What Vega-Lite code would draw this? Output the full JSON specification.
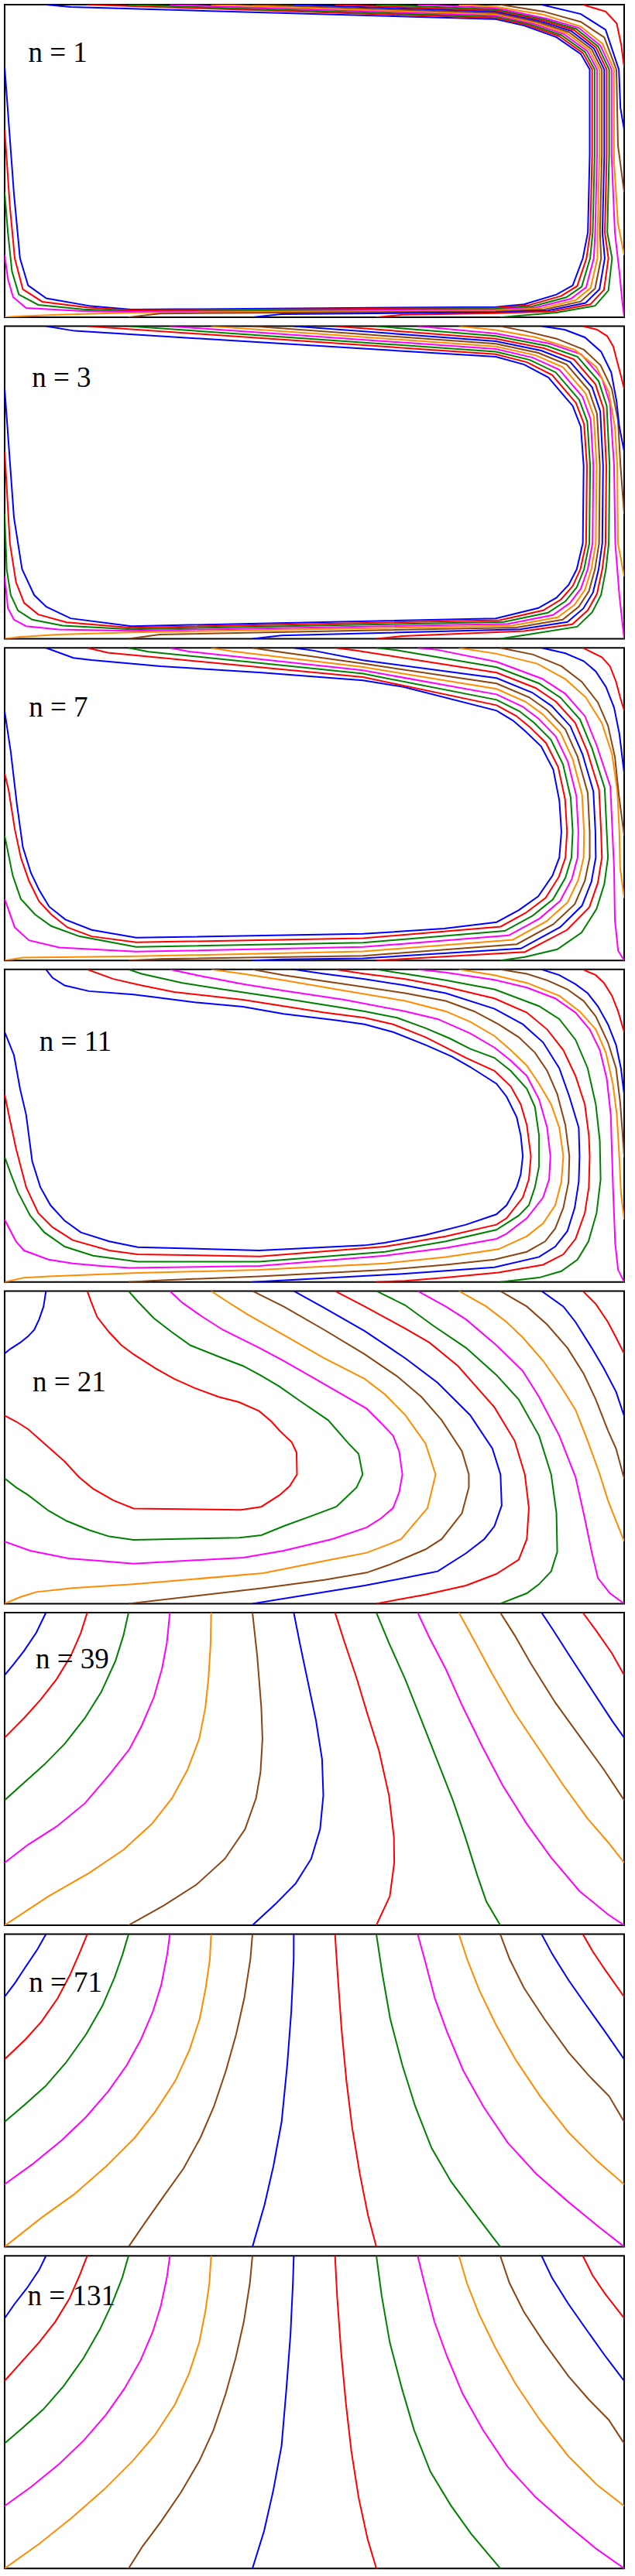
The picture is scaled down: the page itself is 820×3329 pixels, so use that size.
{
"$schema":"https://vega.github.io/schema/vega-lite/v6.json",
"background":"white",
"padding":{"left":5,"top":5,"right":5,"bottom":5},
"spacing":9.6,
"config":{"view":{"stroke":"#000000","strokeWidth":2}},
"datasets":{
"lab":[
{"p":1,"x":0.038,"y":0.183,"t":"n = 1"},
{"p":2,"x":0.044,"y":0.193,"t":"n = 3"},
{"p":3,"x":0.039,"y":0.22,"t":"n = 7"},
{"p":4,"x":0.056,"y":0.261,"t":"n = 11"},
{"p":5,"x":0.045,"y":0.321,"t":"n = 21"},
{"p":6,"x":0.05,"y":0.177,"t":"n = 39"},
{"p":7,"x":0.039,"y":0.184,"t":"n = 71"},
{"p":8,"x":0.037,"y":0.159,"t":"n = 131"}
],
"pts":[
{"p":1,"k":1,"x":0.0667,"y":0},{"p":1,"k":1,"x":0.1065,"y":0.0074},{"p":1,"k":1,"x":0.7928,"y":0.0463},{"p":1,"k":1,"x":0.8386,"y":0.067},{"p":1,"k":1,"x":0.8908,"y":0.1042},{"p":1,"k":1,"x":0.9301,"y":0.158},{"p":1,"k":1,"x":0.9444,"y":0.2076},{"p":1,"k":1,"x":0.9444,"y":0.4806},{"p":1,"k":1,"x":0.9414,"y":0.7287},{"p":1,"k":1,"x":0.9333,"y":0.8114},{"p":1,"k":1,"x":0.917,"y":0.8983},{"p":1,"k":1,"x":0.8908,"y":0.9272},{"p":1,"k":1,"x":0.8386,"y":0.9586},{"p":1,"k":1,"x":0.7928,"y":0.9669},{"p":1,"k":1,"x":0.2046,"y":0.9752},{"p":1,"k":1,"x":0.1392,"y":0.9644},{"p":1,"k":1,"x":0.0673,"y":0.9396},{"p":1,"k":1,"x":0.0379,"y":0.8983},{"p":1,"k":1,"x":0.0248,"y":0.8114},{"p":1,"k":1,"x":0.015,"y":0.6046},{"p":1,"k":1,"x":0,"y":0.2},
{"p":1,"k":2,"x":0.1333,"y":0},{"p":1,"k":2,"x":0.7928,"y":0.0424},{"p":1,"k":2,"x":0.8426,"y":0.0645},{"p":1,"k":2,"x":0.8948,"y":0.1009},{"p":1,"k":2,"x":0.9336,"y":0.155},{"p":1,"k":2,"x":0.9483,"y":0.2076},{"p":1,"k":2,"x":0.9483,"y":0.4806},{"p":1,"k":2,"x":0.9453,"y":0.7287},{"p":1,"k":2,"x":0.9392,"y":0.8114},{"p":1,"k":2,"x":0.9242,"y":0.9003},{"p":1,"k":2,"x":0.8986,"y":0.9317},{"p":1,"k":2,"x":0.8451,"y":0.9619},{"p":1,"k":2,"x":0.7928,"y":0.9698},{"p":1,"k":2,"x":0.2046,"y":0.9777},{"p":1,"k":2,"x":0.1327,"y":0.9686},{"p":1,"k":2,"x":0.0608,"y":0.9504},{"p":1,"k":2,"x":0.0294,"y":0.9107},{"p":1,"k":2,"x":0.0163,"y":0.8114},{"p":1,"k":2,"x":0.0085,"y":0.646},{"p":1,"k":2,"x":0,"y":0.4},
{"p":1,"k":3,"x":0.2,"y":0},{"p":1,"k":3,"x":0.7928,"y":0.0384},{"p":1,"k":3,"x":0.8466,"y":0.062},{"p":1,"k":3,"x":0.8988,"y":0.0976},{"p":1,"k":3,"x":0.9371,"y":0.152},{"p":1,"k":3,"x":0.9523,"y":0.2076},{"p":1,"k":3,"x":0.9523,"y":0.4806},{"p":1,"k":3,"x":0.9493,"y":0.7287},{"p":1,"k":3,"x":0.9451,"y":0.8114},{"p":1,"k":3,"x":0.9314,"y":0.9023},{"p":1,"k":3,"x":0.9064,"y":0.9362},{"p":1,"k":3,"x":0.8516,"y":0.9652},{"p":1,"k":3,"x":0.7928,"y":0.9727},{"p":1,"k":3,"x":0.2046,"y":0.9802},{"p":1,"k":3,"x":0.1261,"y":0.9744},{"p":1,"k":3,"x":0.0542,"y":0.9603},{"p":1,"k":3,"x":0.0229,"y":0.9272},{"p":1,"k":3,"x":0.0118,"y":0.8528},{"p":1,"k":3,"x":0.0052,"y":0.7287},{"p":1,"k":3,"x":0,"y":0.6},
{"p":1,"k":4,"x":0.2667,"y":0},{"p":1,"k":4,"x":0.7928,"y":0.0344},{"p":1,"k":4,"x":0.8506,"y":0.0595},{"p":1,"k":4,"x":0.9028,"y":0.0943},{"p":1,"k":4,"x":0.9406,"y":0.149},{"p":1,"k":4,"x":0.9562,"y":0.2076},{"p":1,"k":4,"x":0.9562,"y":0.4806},{"p":1,"k":4,"x":0.9532,"y":0.7287},{"p":1,"k":4,"x":0.951,"y":0.8114},{"p":1,"k":4,"x":0.9386,"y":0.9043},{"p":1,"k":4,"x":0.9142,"y":0.9407},{"p":1,"k":4,"x":0.8581,"y":0.9685},{"p":1,"k":4,"x":0.7928,"y":0.9756},{"p":1,"k":4,"x":0.2046,"y":0.9827},{"p":1,"k":4,"x":0.1196,"y":0.9793},{"p":1,"k":4,"x":0.0346,"y":0.9702},{"p":1,"k":4,"x":0.0137,"y":0.9355},{"p":1,"k":4,"x":0.0052,"y":0.8776},{"p":1,"k":4,"x":0,"y":0.8},
{"p":1,"k":5,"x":0.3333,"y":0},{"p":1,"k":5,"x":0.7928,"y":0.0305},{"p":1,"k":5,"x":0.8546,"y":0.057},{"p":1,"k":5,"x":0.9068,"y":0.091},{"p":1,"k":5,"x":0.9441,"y":0.146},{"p":1,"k":5,"x":0.9601,"y":0.2076},{"p":1,"k":5,"x":0.9601,"y":0.4806},{"p":1,"k":5,"x":0.9571,"y":0.7287},{"p":1,"k":5,"x":0.9569,"y":0.8114},{"p":1,"k":5,"x":0.9458,"y":0.9063},{"p":1,"k":5,"x":0.922,"y":0.9452},{"p":1,"k":5,"x":0.8646,"y":0.9718},{"p":1,"k":5,"x":0.7928,"y":0.9785},{"p":1,"k":5,"x":0.2046,"y":0.9852},{"p":1,"k":5,"x":0.0869,"y":0.9917},{"p":1,"k":5,"x":0.015,"y":0.9975},{"p":1,"k":5,"x":0,"y":1},
{"p":1,"k":6,"x":0.4,"y":0},{"p":1,"k":6,"x":0.7928,"y":0.0265},{"p":1,"k":6,"x":0.8586,"y":0.0545},{"p":1,"k":6,"x":0.9108,"y":0.0877},{"p":1,"k":6,"x":0.9476,"y":0.143},{"p":1,"k":6,"x":0.964,"y":0.2076},{"p":1,"k":6,"x":0.964,"y":0.4806},{"p":1,"k":6,"x":0.961,"y":0.7287},{"p":1,"k":6,"x":0.9628,"y":0.8114},{"p":1,"k":6,"x":0.953,"y":0.9083},{"p":1,"k":6,"x":0.9298,"y":0.9497},{"p":1,"k":6,"x":0.8711,"y":0.9751},{"p":1,"k":6,"x":0.7928,"y":0.9814},{"p":1,"k":6,"x":0.2503,"y":0.988},{"p":1,"k":6,"x":0.2,"y":1},
{"p":1,"k":7,"x":0.4667,"y":0},{"p":1,"k":7,"x":0.7928,"y":0.0225},{"p":1,"k":7,"x":0.8626,"y":0.052},{"p":1,"k":7,"x":0.9148,"y":0.0844},{"p":1,"k":7,"x":0.9511,"y":0.14},{"p":1,"k":7,"x":0.9679,"y":0.2076},{"p":1,"k":7,"x":0.9679,"y":0.4806},{"p":1,"k":7,"x":0.9649,"y":0.7287},{"p":1,"k":7,"x":0.9687,"y":0.8114},{"p":1,"k":7,"x":0.9602,"y":0.9103},{"p":1,"k":7,"x":0.9376,"y":0.9542},{"p":1,"k":7,"x":0.8776,"y":0.9784},{"p":1,"k":7,"x":0.7928,"y":0.9843},{"p":1,"k":7,"x":0.4464,"y":0.99},{"p":1,"k":7,"x":0.4,"y":1},
{"p":1,"k":8,"x":0.5333,"y":0},{"p":1,"k":8,"x":0.7928,"y":0.0186},{"p":1,"k":8,"x":0.8666,"y":0.0495},{"p":1,"k":8,"x":0.9188,"y":0.0811},{"p":1,"k":8,"x":0.9546,"y":0.137},{"p":1,"k":8,"x":0.9718,"y":0.2076},{"p":1,"k":8,"x":0.9718,"y":0.4806},{"p":1,"k":8,"x":0.9688,"y":0.7287},{"p":1,"k":8,"x":0.9746,"y":0.8114},{"p":1,"k":8,"x":0.9674,"y":0.9123},{"p":1,"k":8,"x":0.9454,"y":0.9587},{"p":1,"k":8,"x":0.8841,"y":0.9817},{"p":1,"k":8,"x":0.7928,"y":0.9872},{"p":1,"k":8,"x":0.6425,"y":0.992},{"p":1,"k":8,"x":0.6,"y":1},
{"p":1,"k":9,"x":0.6,"y":0},{"p":1,"k":9,"x":0.7928,"y":0.0146},{"p":1,"k":9,"x":0.8706,"y":0.047},{"p":1,"k":9,"x":0.9228,"y":0.0778},{"p":1,"k":9,"x":0.9581,"y":0.134},{"p":1,"k":9,"x":0.9758,"y":0.2076},{"p":1,"k":9,"x":0.9758,"y":0.4806},{"p":1,"k":9,"x":0.9728,"y":0.7287},{"p":1,"k":9,"x":0.9805,"y":0.8114},{"p":1,"k":9,"x":0.9746,"y":0.9143},{"p":1,"k":9,"x":0.9532,"y":0.9632},{"p":1,"k":9,"x":0.8906,"y":0.985},{"p":1,"k":9,"x":0.8,"y":1},
{"p":1,"k":10,"x":0.6667,"y":0},{"p":1,"k":10,"x":0.7928,"y":0.0106},{"p":1,"k":10,"x":0.8746,"y":0.0445},{"p":1,"k":10,"x":0.9268,"y":0.0745},{"p":1,"k":10,"x":0.9616,"y":0.131},{"p":1,"k":10,"x":0.9797,"y":0.2076},{"p":1,"k":10,"x":0.9797,"y":0.4806},{"p":1,"k":10,"x":0.985,"y":0.7287},{"p":1,"k":10,"x":0.992,"y":0.85},{"p":1,"k":10,"x":0.997,"y":0.95},{"p":1,"k":10,"x":1,"y":1},
{"p":1,"k":11,"x":0.7333,"y":0},{"p":1,"k":11,"x":0.7928,"y":0.0067},{"p":1,"k":11,"x":0.87,"y":0.032},{"p":1,"k":11,"x":0.93,"y":0.07},{"p":1,"k":11,"x":0.965,"y":0.125},{"p":1,"k":11,"x":0.9836,"y":0.2076},{"p":1,"k":11,"x":0.9836,"y":0.5},{"p":1,"k":11,"x":0.99,"y":0.7},{"p":1,"k":11,"x":1,"y":0.8},
{"p":1,"k":12,"x":0.8,"y":0},{"p":1,"k":12,"x":0.87,"y":0.022},{"p":1,"k":12,"x":0.93,"y":0.055},{"p":1,"k":12,"x":0.968,"y":0.105},{"p":1,"k":12,"x":0.9875,"y":0.2076},{"p":1,"k":12,"x":0.99,"y":0.45},{"p":1,"k":12,"x":1,"y":0.6},
{"p":1,"k":13,"x":0.8667,"y":0},{"p":1,"k":13,"x":0.93,"y":0.03},{"p":1,"k":13,"x":0.97,"y":0.08},{"p":1,"k":13,"x":0.9915,"y":0.2076},{"p":1,"k":13,"x":0.994,"y":0.33},{"p":1,"k":13,"x":1,"y":0.4},
{"p":1,"k":14,"x":0.9333,"y":0},{"p":1,"k":14,"x":0.97,"y":0.022},{"p":1,"k":14,"x":0.988,"y":0.06},{"p":1,"k":14,"x":0.9954,"y":0.13},{"p":1,"k":14,"x":1,"y":0.2},
{"p":2,"k":1,"x":0.0667,"y":0},{"p":2,"k":1,"x":0.1131,"y":0.0149},{"p":2,"k":1,"x":0.7928,"y":0.0978},{"p":2,"k":1,"x":0.8386,"y":0.1226},{"p":2,"k":1,"x":0.8778,"y":0.164},{"p":2,"k":1,"x":0.917,"y":0.2552},{"p":2,"k":1,"x":0.93,"y":0.3215},{"p":2,"k":1,"x":0.9346,"y":0.4457},{"p":2,"k":1,"x":0.9333,"y":0.6943},{"p":2,"k":1,"x":0.9235,"y":0.7771},{"p":2,"k":1,"x":0.9105,"y":0.8268},{"p":2,"k":1,"x":0.8908,"y":0.8683},{"p":2,"k":1,"x":0.8614,"y":0.9014},{"p":2,"k":1,"x":0.7928,"y":0.9345},{"p":2,"k":1,"x":0.2046,"y":0.9594},{"p":2,"k":1,"x":0.1065,"y":0.9345},{"p":2,"k":1,"x":0.0673,"y":0.8973},{"p":2,"k":1,"x":0.0477,"y":0.86},{"p":2,"k":1,"x":0.0281,"y":0.7771},{"p":2,"k":1,"x":0.015,"y":0.6114},{"p":2,"k":1,"x":0,"y":0.2},
{"p":2,"k":2,"x":0.1333,"y":0},{"p":2,"k":2,"x":0.7928,"y":0.0895},{"p":2,"k":2,"x":0.8431,"y":0.1152},{"p":2,"k":2,"x":0.8837,"y":0.1558},{"p":2,"k":2,"x":0.9222,"y":0.2452},{"p":2,"k":2,"x":0.9353,"y":0.3132},{"p":2,"k":2,"x":0.9399,"y":0.4457},{"p":2,"k":2,"x":0.9386,"y":0.6943},{"p":2,"k":2,"x":0.9294,"y":0.7771},{"p":2,"k":2,"x":0.917,"y":0.831},{"p":2,"k":2,"x":0.898,"y":0.8741},{"p":2,"k":2,"x":0.8693,"y":0.9089},{"p":2,"k":2,"x":0.7993,"y":0.9403},{"p":2,"k":2,"x":0.2046,"y":0.9644},{"p":2,"k":2,"x":0.1,"y":0.947},{"p":2,"k":2,"x":0.0542,"y":0.9221},{"p":2,"k":2,"x":0.0314,"y":0.8848},{"p":2,"k":2,"x":0.0183,"y":0.8186},{"p":2,"k":2,"x":0.0085,"y":0.6943},{"p":2,"k":2,"x":0,"y":0.4},
{"p":2,"k":3,"x":0.2,"y":0},{"p":2,"k":3,"x":0.7928,"y":0.0812},{"p":2,"k":3,"x":0.8477,"y":0.1077},{"p":2,"k":3,"x":0.8895,"y":0.1475},{"p":2,"k":3,"x":0.9275,"y":0.2353},{"p":2,"k":3,"x":0.9405,"y":0.3049},{"p":2,"k":3,"x":0.9451,"y":0.4457},{"p":2,"k":3,"x":0.9438,"y":0.6943},{"p":2,"k":3,"x":0.9353,"y":0.7771},{"p":2,"k":3,"x":0.9235,"y":0.8351},{"p":2,"k":3,"x":0.9052,"y":0.8799},{"p":2,"k":3,"x":0.8771,"y":0.9163},{"p":2,"k":3,"x":0.8059,"y":0.9461},{"p":2,"k":3,"x":0.2046,"y":0.9693},{"p":2,"k":3,"x":0.0935,"y":0.9577},{"p":2,"k":3,"x":0.0444,"y":0.9387},{"p":2,"k":3,"x":0.0216,"y":0.9097},{"p":2,"k":3,"x":0.0098,"y":0.86},{"p":2,"k":3,"x":0.0033,"y":0.7771},{"p":2,"k":3,"x":0,"y":0.6},
{"p":2,"k":4,"x":0.2667,"y":0},{"p":2,"k":4,"x":0.7928,"y":0.0729},{"p":2,"k":4,"x":0.8523,"y":0.1002},{"p":2,"k":4,"x":0.8954,"y":0.1392},{"p":2,"k":4,"x":0.9327,"y":0.2254},{"p":2,"k":4,"x":0.9458,"y":0.2966},{"p":2,"k":4,"x":0.9503,"y":0.4457},{"p":2,"k":4,"x":0.949,"y":0.6943},{"p":2,"k":4,"x":0.9412,"y":0.7771},{"p":2,"k":4,"x":0.9301,"y":0.8393},{"p":2,"k":4,"x":0.9124,"y":0.8857},{"p":2,"k":4,"x":0.885,"y":0.9238},{"p":2,"k":4,"x":0.8124,"y":0.9519},{"p":2,"k":4,"x":0.2046,"y":0.9743},{"p":2,"k":4,"x":0.0869,"y":0.9702},{"p":2,"k":4,"x":0.0346,"y":0.9594},{"p":2,"k":4,"x":0.015,"y":0.9387},{"p":2,"k":4,"x":0.0052,"y":0.9014},{"p":2,"k":4,"x":0,"y":0.8},
{"p":2,"k":5,"x":0.3333,"y":0},{"p":2,"k":5,"x":0.7928,"y":0.0646},{"p":2,"k":5,"x":0.8569,"y":0.0928},{"p":2,"k":5,"x":0.9013,"y":0.1309},{"p":2,"k":5,"x":0.9379,"y":0.2154},{"p":2,"k":5,"x":0.951,"y":0.2883},{"p":2,"k":5,"x":0.9556,"y":0.4457},{"p":2,"k":5,"x":0.9542,"y":0.6943},{"p":2,"k":5,"x":0.9471,"y":0.7771},{"p":2,"k":5,"x":0.9366,"y":0.8434},{"p":2,"k":5,"x":0.9196,"y":0.8915},{"p":2,"k":5,"x":0.8928,"y":0.9312},{"p":2,"k":5,"x":0.819,"y":0.9577},{"p":2,"k":5,"x":0.2046,"y":0.9793},{"p":2,"k":5,"x":0.0869,"y":0.9859},{"p":2,"k":5,"x":0.0216,"y":0.9942},{"p":2,"k":5,"x":0,"y":1},
{"p":2,"k":6,"x":0.4,"y":0},{"p":2,"k":6,"x":0.7928,"y":0.0563},{"p":2,"k":6,"x":0.8614,"y":0.0853},{"p":2,"k":6,"x":0.9072,"y":0.1226},{"p":2,"k":6,"x":0.9431,"y":0.2055},{"p":2,"k":6,"x":0.9562,"y":0.28},{"p":2,"k":6,"x":0.9608,"y":0.4457},{"p":2,"k":6,"x":0.9595,"y":0.6943},{"p":2,"k":6,"x":0.9529,"y":0.7771},{"p":2,"k":6,"x":0.9431,"y":0.8476},{"p":2,"k":6,"x":0.9268,"y":0.8973},{"p":2,"k":6,"x":0.9007,"y":0.9387},{"p":2,"k":6,"x":0.8255,"y":0.9636},{"p":2,"k":6,"x":0.2503,"y":0.9859},{"p":2,"k":6,"x":0.2,"y":1},
{"p":2,"k":7,"x":0.4667,"y":0},{"p":2,"k":7,"x":0.7928,"y":0.048},{"p":2,"k":7,"x":0.866,"y":0.0779},{"p":2,"k":7,"x":0.9131,"y":0.1143},{"p":2,"k":7,"x":0.9484,"y":0.1956},{"p":2,"k":7,"x":0.9614,"y":0.2717},{"p":2,"k":7,"x":0.966,"y":0.4457},{"p":2,"k":7,"x":0.9647,"y":0.6943},{"p":2,"k":7,"x":0.9588,"y":0.7771},{"p":2,"k":7,"x":0.9497,"y":0.8517},{"p":2,"k":7,"x":0.934,"y":0.9031},{"p":2,"k":7,"x":0.9085,"y":0.9461},{"p":2,"k":7,"x":0.832,"y":0.9693},{"p":2,"k":7,"x":0.4464,"y":0.9892},{"p":2,"k":7,"x":0.4,"y":1},
{"p":2,"k":8,"x":0.5333,"y":0},{"p":2,"k":8,"x":0.7928,"y":0.0398},{"p":2,"k":8,"x":0.8706,"y":0.0704},{"p":2,"k":8,"x":0.919,"y":0.106},{"p":2,"k":8,"x":0.9536,"y":0.1856},{"p":2,"k":8,"x":0.9667,"y":0.2635},{"p":2,"k":8,"x":0.9712,"y":0.4457},{"p":2,"k":8,"x":0.9699,"y":0.6943},{"p":2,"k":8,"x":0.9647,"y":0.7771},{"p":2,"k":8,"x":0.9562,"y":0.8558},{"p":2,"k":8,"x":0.9412,"y":0.9089},{"p":2,"k":8,"x":0.9163,"y":0.9536},{"p":2,"k":8,"x":0.8386,"y":0.9751},{"p":2,"k":8,"x":0.6425,"y":0.9909},{"p":2,"k":8,"x":0.6,"y":1},
{"p":2,"k":9,"x":0.6,"y":0},{"p":2,"k":9,"x":0.7928,"y":0.0315},{"p":2,"k":9,"x":0.8752,"y":0.063},{"p":2,"k":9,"x":0.9248,"y":0.0978},{"p":2,"k":9,"x":0.9588,"y":0.1757},{"p":2,"k":9,"x":0.9719,"y":0.2552},{"p":2,"k":9,"x":0.9765,"y":0.4457},{"p":2,"k":9,"x":0.9752,"y":0.6943},{"p":2,"k":9,"x":0.9706,"y":0.7771},{"p":2,"k":9,"x":0.9627,"y":0.86},{"p":2,"k":9,"x":0.9484,"y":0.9147},{"p":2,"k":9,"x":0.9242,"y":0.9611},{"p":2,"k":9,"x":0.8451,"y":0.9859},{"p":2,"k":9,"x":0.8,"y":1},
{"p":2,"k":10,"x":0.6667,"y":0},{"p":2,"k":10,"x":0.7928,"y":0.0232},{"p":2,"k":10,"x":0.8797,"y":0.0555},{"p":2,"k":10,"x":0.9307,"y":0.0895},{"p":2,"k":10,"x":0.964,"y":0.1657},{"p":2,"k":10,"x":0.9771,"y":0.2469},{"p":2,"k":10,"x":0.9837,"y":0.4457},{"p":2,"k":10,"x":0.9856,"y":0.6943},{"p":2,"k":10,"x":0.9922,"y":0.86},{"p":2,"k":10,"x":1,"y":1},
{"p":2,"k":11,"x":0.7333,"y":0},{"p":2,"k":11,"x":0.7928,"y":0.0124},{"p":2,"k":11,"x":0.8582,"y":0.0356},{"p":2,"k":11,"x":0.92,"y":0.075},{"p":2,"k":11,"x":0.955,"y":0.13},{"p":2,"k":11,"x":0.975,"y":0.21},{"p":2,"k":11,"x":0.985,"y":0.32},{"p":2,"k":11,"x":0.9889,"y":0.4457},{"p":2,"k":11,"x":0.99,"y":0.6943},{"p":2,"k":11,"x":1,"y":0.8},
{"p":2,"k":12,"x":0.8,"y":0},{"p":2,"k":12,"x":0.8386,"y":0.0149},{"p":2,"k":12,"x":0.8908,"y":0.0398},{"p":2,"k":12,"x":0.935,"y":0.075},{"p":2,"k":12,"x":0.962,"y":0.125},{"p":2,"k":12,"x":0.98,"y":0.2},{"p":2,"k":12,"x":0.99,"y":0.3},{"p":2,"k":12,"x":0.9941,"y":0.4457},{"p":2,"k":12,"x":1,"y":0.6},
{"p":2,"k":13,"x":0.8667,"y":0},{"p":2,"k":13,"x":0.9039,"y":0.0108},{"p":2,"k":13,"x":0.9366,"y":0.0356},{"p":2,"k":13,"x":0.9627,"y":0.0812},{"p":2,"k":13,"x":0.9791,"y":0.1475},{"p":2,"k":13,"x":0.9876,"y":0.2386},{"p":2,"k":13,"x":0.9922,"y":0.3215},{"p":2,"k":13,"x":1,"y":0.4},
{"p":2,"k":14,"x":0.9333,"y":0},{"p":2,"k":14,"x":0.9562,"y":0.0108},{"p":2,"k":14,"x":0.9725,"y":0.0315},{"p":2,"k":14,"x":0.9824,"y":0.0646},{"p":2,"k":14,"x":0.9889,"y":0.1143},{"p":2,"k":14,"x":0.995,"y":0.16},{"p":2,"k":14,"x":1,"y":0.2},
{"p":3,"k":1,"x":0.0667,"y":0},{"p":3,"k":1,"x":0.1111,"y":0.0323},{"p":3,"k":1,"x":0.1405,"y":0.0389},{"p":3,"k":1,"x":0.2516,"y":0.0587},{"p":3,"k":1,"x":0.415,"y":0.0794},{"p":3,"k":1,"x":0.5784,"y":0.1042},{"p":3,"k":1,"x":0.6438,"y":0.1249},{"p":3,"k":1,"x":0.7941,"y":0.201},{"p":3,"k":1,"x":0.8203,"y":0.2324},{"p":3,"k":1,"x":0.8399,"y":0.2655},{"p":3,"k":1,"x":0.866,"y":0.3151},{"p":3,"k":1,"x":0.8856,"y":0.3896},{"p":3,"k":1,"x":0.8954,"y":0.4888},{"p":3,"k":1,"x":0.8987,"y":0.5881},{"p":3,"k":1,"x":0.8954,"y":0.6708},{"p":3,"k":1,"x":0.8843,"y":0.7287},{"p":3,"k":1,"x":0.8614,"y":0.7948},{"p":3,"k":1,"x":0.8301,"y":0.8387},{"p":3,"k":1,"x":0.7941,"y":0.8776},{"p":3,"k":1,"x":0.7092,"y":0.8982},{"p":3,"k":1,"x":0.5784,"y":0.9148},{"p":3,"k":1,"x":0.2124,"y":0.9272},{"p":3,"k":1,"x":0.1405,"y":0.9024},{"p":3,"k":1,"x":0.098,"y":0.8693},{"p":3,"k":1,"x":0.0719,"y":0.8279},{"p":3,"k":1,"x":0.0556,"y":0.7742},{"p":3,"k":1,"x":0.0425,"y":0.7204},{"p":3,"k":1,"x":0.0294,"y":0.6377},{"p":3,"k":1,"x":0.0196,"y":0.4971},{"p":3,"k":1,"x":0.0098,"y":0.3317},{"p":3,"k":1,"x":0,"y":0.2035},
{"p":3,"k":2,"x":0.1333,"y":0},{"p":3,"k":2,"x":0.1667,"y":0.0157},{"p":3,"k":2,"x":0.2712,"y":0.0356},{"p":3,"k":2,"x":0.5784,"y":0.0935},{"p":3,"k":2,"x":0.7941,"y":0.1836},{"p":3,"k":2,"x":0.8255,"y":0.2175},{"p":3,"k":2,"x":0.8471,"y":0.2523},{"p":3,"k":2,"x":0.8739,"y":0.3044},{"p":3,"k":2,"x":0.8935,"y":0.3813},{"p":3,"k":2,"x":0.9046,"y":0.4839},{"p":3,"k":2,"x":0.9078,"y":0.5881},{"p":3,"k":2,"x":0.9052,"y":0.6708},{"p":3,"k":2,"x":0.8948,"y":0.732},{"p":3,"k":2,"x":0.8732,"y":0.7998},{"p":3,"k":2,"x":0.8412,"y":0.8478},{"p":3,"k":2,"x":0.8007,"y":0.8916},{"p":3,"k":2,"x":0.5784,"y":0.9289},{"p":3,"k":2,"x":0.2124,"y":0.9421},{"p":3,"k":2,"x":0.1405,"y":0.9231},{"p":3,"k":2,"x":0.1013,"y":0.8941},{"p":3,"k":2,"x":0.0752,"y":0.8528},{"p":3,"k":2,"x":0.0556,"y":0.8114},{"p":3,"k":2,"x":0.0392,"y":0.7452},{"p":3,"k":2,"x":0.0261,"y":0.6708},{"p":3,"k":2,"x":0.0163,"y":0.5798},{"p":3,"k":2,"x":0.0065,"y":0.4557},{"p":3,"k":2,"x":0,"y":0.402},
{"p":3,"k":3,"x":0.2,"y":0},{"p":3,"k":3,"x":0.232,"y":0.0124},{"p":3,"k":3,"x":0.5784,"y":0.0827},{"p":3,"k":3,"x":0.7941,"y":0.1662},{"p":3,"k":3,"x":0.8307,"y":0.2026},{"p":3,"k":3,"x":0.8542,"y":0.239},{"p":3,"k":3,"x":0.8817,"y":0.2936},{"p":3,"k":3,"x":0.9013,"y":0.373},{"p":3,"k":3,"x":0.9137,"y":0.4789},{"p":3,"k":3,"x":0.917,"y":0.5881},{"p":3,"k":3,"x":0.915,"y":0.6708},{"p":3,"k":3,"x":0.9052,"y":0.7353},{"p":3,"k":3,"x":0.885,"y":0.8048},{"p":3,"k":3,"x":0.8523,"y":0.8569},{"p":3,"k":3,"x":0.8072,"y":0.9057},{"p":3,"k":3,"x":0.5784,"y":0.9429},{"p":3,"k":3,"x":0.2124,"y":0.957},{"p":3,"k":3,"x":0.1209,"y":0.923},{"p":3,"k":3,"x":0.0752,"y":0.89},{"p":3,"k":3,"x":0.049,"y":0.8528},{"p":3,"k":3,"x":0.0261,"y":0.8031},{"p":3,"k":3,"x":0.0131,"y":0.7287},{"p":3,"k":3,"x":0,"y":0.6005},
{"p":3,"k":4,"x":0.2667,"y":0},{"p":3,"k":4,"x":0.2974,"y":0.0116},{"p":3,"k":4,"x":0.5784,"y":0.072},{"p":3,"k":4,"x":0.7941,"y":0.1489},{"p":3,"k":4,"x":0.8359,"y":0.1878},{"p":3,"k":4,"x":0.8614,"y":0.2258},{"p":3,"k":4,"x":0.8895,"y":0.2829},{"p":3,"k":4,"x":0.9092,"y":0.3648},{"p":3,"k":4,"x":0.9229,"y":0.4739},{"p":3,"k":4,"x":0.9261,"y":0.5881},{"p":3,"k":4,"x":0.9248,"y":0.6708},{"p":3,"k":4,"x":0.9157,"y":0.7386},{"p":3,"k":4,"x":0.8967,"y":0.8097},{"p":3,"k":4,"x":0.8634,"y":0.866},{"p":3,"k":4,"x":0.8137,"y":0.9197},{"p":3,"k":4,"x":0.5784,"y":0.957},{"p":3,"k":4,"x":0.2124,"y":0.9719},{"p":3,"k":4,"x":0.0882,"y":0.9586},{"p":3,"k":4,"x":0.0392,"y":0.9355},{"p":3,"k":4,"x":0.0163,"y":0.8941},{"p":3,"k":4,"x":0,"y":0.8031},
{"p":3,"k":5,"x":0.3333,"y":0},{"p":3,"k":5,"x":0.366,"y":0.0108},{"p":3,"k":5,"x":0.5784,"y":0.0612},{"p":3,"k":5,"x":0.7941,"y":0.1315},{"p":3,"k":5,"x":0.8412,"y":0.1729},{"p":3,"k":5,"x":0.8686,"y":0.2126},{"p":3,"k":5,"x":0.8974,"y":0.2721},{"p":3,"k":5,"x":0.917,"y":0.3565},{"p":3,"k":5,"x":0.932,"y":0.469},{"p":3,"k":5,"x":0.9353,"y":0.5881},{"p":3,"k":5,"x":0.9346,"y":0.6708},{"p":3,"k":5,"x":0.9261,"y":0.7419},{"p":3,"k":5,"x":0.9085,"y":0.8147},{"p":3,"k":5,"x":0.8745,"y":0.8751},{"p":3,"k":5,"x":0.8203,"y":0.9338},{"p":3,"k":5,"x":0.5784,"y":0.971},{"p":3,"k":5,"x":0.2124,"y":0.9868},{"p":3,"k":5,"x":0.0882,"y":0.9893},{"p":3,"k":5,"x":0.0294,"y":0.9909},{"p":3,"k":5,"x":0,"y":1},
{"p":3,"k":6,"x":0.4,"y":0},{"p":3,"k":6,"x":0.4327,"y":0.0099},{"p":3,"k":6,"x":0.5784,"y":0.0505},{"p":3,"k":6,"x":0.7941,"y":0.1141},{"p":3,"k":6,"x":0.8464,"y":0.158},{"p":3,"k":6,"x":0.8758,"y":0.1993},{"p":3,"k":6,"x":0.9052,"y":0.2614},{"p":3,"k":6,"x":0.9248,"y":0.3482},{"p":3,"k":6,"x":0.9412,"y":0.464},{"p":3,"k":6,"x":0.9444,"y":0.5881},{"p":3,"k":6,"x":0.9444,"y":0.6708},{"p":3,"k":6,"x":0.9366,"y":0.7452},{"p":3,"k":6,"x":0.9203,"y":0.8197},{"p":3,"k":6,"x":0.8856,"y":0.8842},{"p":3,"k":6,"x":0.8268,"y":0.9479},{"p":3,"k":6,"x":0.5784,"y":0.9851},{"p":3,"k":6,"x":0.2516,"y":0.995},{"p":3,"k":6,"x":0.2,"y":1},
{"p":3,"k":7,"x":0.4667,"y":0},{"p":3,"k":7,"x":0.4993,"y":0.0091},{"p":3,"k":7,"x":0.5784,"y":0.0397},{"p":3,"k":7,"x":0.7941,"y":0.0968},{"p":3,"k":7,"x":0.8516,"y":0.1431},{"p":3,"k":7,"x":0.883,"y":0.1861},{"p":3,"k":7,"x":0.9131,"y":0.2506},{"p":3,"k":7,"x":0.9327,"y":0.3399},{"p":3,"k":7,"x":0.9503,"y":0.459},{"p":3,"k":7,"x":0.9536,"y":0.5881},{"p":3,"k":7,"x":0.9542,"y":0.6708},{"p":3,"k":7,"x":0.9471,"y":0.7486},{"p":3,"k":7,"x":0.932,"y":0.8246},{"p":3,"k":7,"x":0.8967,"y":0.8933},{"p":3,"k":7,"x":0.8333,"y":0.962},{"p":3,"k":7,"x":0.5784,"y":0.9934},{"p":3,"k":7,"x":0.4477,"y":0.9967},{"p":3,"k":7,"x":0.4,"y":1},
{"p":3,"k":8,"x":0.5333,"y":0},{"p":3,"k":8,"x":0.566,"y":0.0083},{"p":3,"k":8,"x":0.7941,"y":0.0794},{"p":3,"k":8,"x":0.8569,"y":0.1282},{"p":3,"k":8,"x":0.8902,"y":0.1728},{"p":3,"k":8,"x":0.9209,"y":0.2398},{"p":3,"k":8,"x":0.9405,"y":0.3317},{"p":3,"k":8,"x":0.9595,"y":0.4541},{"p":3,"k":8,"x":0.9627,"y":0.5881},{"p":3,"k":8,"x":0.9641,"y":0.6708},{"p":3,"k":8,"x":0.9575,"y":0.7518},{"p":3,"k":8,"x":0.9438,"y":0.8296},{"p":3,"k":8,"x":0.9078,"y":0.9024},{"p":3,"k":8,"x":0.8399,"y":0.9727},{"p":3,"k":8,"x":0.6438,"y":0.995},{"p":3,"k":8,"x":0.6,"y":1},
{"p":3,"k":9,"x":0.6,"y":0},{"p":3,"k":9,"x":0.6327,"y":0.0074},{"p":3,"k":9,"x":0.7941,"y":0.062},{"p":3,"k":9,"x":0.8621,"y":0.1133},{"p":3,"k":9,"x":0.8974,"y":0.1596},{"p":3,"k":9,"x":0.9288,"y":0.2291},{"p":3,"k":9,"x":0.9484,"y":0.3234},{"p":3,"k":9,"x":0.9686,"y":0.4491},{"p":3,"k":9,"x":0.9719,"y":0.5881},{"p":3,"k":9,"x":0.9739,"y":0.6708},{"p":3,"k":9,"x":0.968,"y":0.7552},{"p":3,"k":9,"x":0.9556,"y":0.8346},{"p":3,"k":9,"x":0.9314,"y":0.9107},{"p":3,"k":9,"x":0.8922,"y":0.9644},{"p":3,"k":9,"x":0.8399,"y":0.9892},{"p":3,"k":9,"x":0.8,"y":1},
{"p":3,"k":10,"x":0.6667,"y":0},{"p":3,"k":10,"x":0.6993,"y":0.0066},{"p":3,"k":10,"x":0.7941,"y":0.0447},{"p":3,"k":10,"x":0.8673,"y":0.0984},{"p":3,"k":10,"x":0.9046,"y":0.1464},{"p":3,"k":10,"x":0.9366,"y":0.2184},{"p":3,"k":10,"x":0.9562,"y":0.3151},{"p":3,"k":10,"x":0.9778,"y":0.4442},{"p":3,"k":10,"x":0.981,"y":0.5881},{"p":3,"k":10,"x":0.9837,"y":0.7039},{"p":3,"k":10,"x":0.985,"y":0.8693},{"p":3,"k":10,"x":0.9902,"y":0.9686},{"p":3,"k":10,"x":1,"y":1},
{"p":3,"k":11,"x":0.7333,"y":0},{"p":3,"k":11,"x":0.7941,"y":0.019},{"p":3,"k":11,"x":0.8595,"y":0.0505},{"p":3,"k":11,"x":0.9052,"y":0.1001},{"p":3,"k":11,"x":0.9379,"y":0.158},{"p":3,"k":11,"x":0.964,"y":0.2407},{"p":3,"k":11,"x":0.9804,"y":0.3399},{"p":3,"k":11,"x":0.9889,"y":0.4557},{"p":3,"k":11,"x":0.9922,"y":0.5881},{"p":3,"k":11,"x":0.9935,"y":0.7039},{"p":3,"k":11,"x":1,"y":0.8},
{"p":3,"k":12,"x":0.8,"y":0},{"p":3,"k":12,"x":0.8529,"y":0.0215},{"p":3,"k":12,"x":0.8987,"y":0.0587},{"p":3,"k":12,"x":0.9314,"y":0.1084},{"p":3,"k":12,"x":0.9575,"y":0.1745},{"p":3,"k":12,"x":0.9739,"y":0.249},{"p":3,"k":12,"x":0.985,"y":0.3482},{"p":3,"k":12,"x":0.9915,"y":0.4723},{"p":3,"k":12,"x":1,"y":0.6},
{"p":3,"k":13,"x":0.8667,"y":0},{"p":3,"k":13,"x":0.9052,"y":0.0174},{"p":3,"k":13,"x":0.9346,"y":0.0422},{"p":3,"k":13,"x":0.9542,"y":0.0753},{"p":3,"k":13,"x":0.9706,"y":0.1249},{"p":3,"k":13,"x":0.9837,"y":0.191},{"p":3,"k":13,"x":0.9922,"y":0.2738},{"p":3,"k":13,"x":1,"y":0.4},
{"p":3,"k":14,"x":0.9333,"y":0},{"p":3,"k":14,"x":0.964,"y":0.0298},{"p":3,"k":14,"x":0.9771,"y":0.0587},{"p":3,"k":14,"x":0.9869,"y":0.1084},{"p":3,"k":14,"x":0.9935,"y":0.158},{"p":3,"k":14,"x":1,"y":0.2},
{"p":4,"k":1,"x":0.0667,"y":0},{"p":4,"k":1,"x":0.0772,"y":0.0265},{"p":4,"k":1,"x":0.0969,"y":0.0513},{"p":4,"k":1,"x":0.1361,"y":0.0695},{"p":4,"k":1,"x":0.2081,"y":0.0802},{"p":4,"k":1,"x":0.2408,"y":0.0885},{"p":4,"k":1,"x":0.3063,"y":0.105},{"p":4,"k":1,"x":0.3848,"y":0.1191},{"p":4,"k":1,"x":0.4503,"y":0.1423},{"p":4,"k":1,"x":0.5353,"y":0.1629},{"p":4,"k":1,"x":0.5812,"y":0.1754},{"p":4,"k":1,"x":0.627,"y":0.2002},{"p":4,"k":1,"x":0.6793,"y":0.2415},{"p":4,"k":1,"x":0.7219,"y":0.2787},{"p":4,"k":1,"x":0.7513,"y":0.3118},{"p":4,"k":1,"x":0.7938,"y":0.3656},{"p":4,"k":1,"x":0.8102,"y":0.4069},{"p":4,"k":1,"x":0.8266,"y":0.4731},{"p":4,"k":1,"x":0.8331,"y":0.531},{"p":4,"k":1,"x":0.8364,"y":0.5972},{"p":4,"k":1,"x":0.8331,"y":0.6551},{"p":4,"k":1,"x":0.8266,"y":0.6964},{"p":4,"k":1,"x":0.8102,"y":0.7543},{"p":4,"k":1,"x":0.7938,"y":0.7833},{"p":4,"k":1,"x":0.7448,"y":0.8164},{"p":4,"k":1,"x":0.6793,"y":0.8495},{"p":4,"k":1,"x":0.6139,"y":0.8743},{"p":4,"k":1,"x":0.5812,"y":0.8826},{"p":4,"k":1,"x":0.411,"y":0.8991},{"p":4,"k":1,"x":0.2147,"y":0.8883},{"p":4,"k":1,"x":0.1688,"y":0.8701},{"p":4,"k":1,"x":0.123,"y":0.8412},{"p":4,"k":1,"x":0.0969,"y":0.804},{"p":4,"k":1,"x":0.074,"y":0.7543},{"p":4,"k":1,"x":0.0576,"y":0.6964},{"p":4,"k":1,"x":0.0445,"y":0.6137},{"p":4,"k":1,"x":0.0347,"y":0.4649},{"p":4,"k":1,"x":0.0249,"y":0.3821},{"p":4,"k":1,"x":0.0151,"y":0.2746},{"p":4,"k":1,"x":0,"y":0.2},
{"p":4,"k":2,"x":0.1333,"y":0},{"p":4,"k":2,"x":0.1754,"y":0.0306},{"p":4,"k":2,"x":0.2212,"y":0.0513},{"p":4,"k":2,"x":0.2736,"y":0.072},{"p":4,"k":2,"x":0.3848,"y":0.0968},{"p":4,"k":2,"x":0.4503,"y":0.1175},{"p":4,"k":2,"x":0.5157,"y":0.1381},{"p":4,"k":2,"x":0.5812,"y":0.1547},{"p":4,"k":2,"x":0.627,"y":0.1754},{"p":4,"k":2,"x":0.6793,"y":0.2167},{"p":4,"k":2,"x":0.712,"y":0.2498},{"p":4,"k":2,"x":0.7448,"y":0.2829},{"p":4,"k":2,"x":0.7906,"y":0.3242},{"p":4,"k":2,"x":0.8168,"y":0.3739},{"p":4,"k":2,"x":0.8331,"y":0.4318},{"p":4,"k":2,"x":0.8429,"y":0.4979},{"p":4,"k":2,"x":0.8495,"y":0.5972},{"p":4,"k":2,"x":0.8462,"y":0.6716},{"p":4,"k":2,"x":0.8364,"y":0.7295},{"p":4,"k":2,"x":0.8102,"y":0.7957},{"p":4,"k":2,"x":0.7938,"y":0.8164},{"p":4,"k":2,"x":0.712,"y":0.8536},{"p":4,"k":2,"x":0.6139,"y":0.8867},{"p":4,"k":2,"x":0.411,"y":0.9181},{"p":4,"k":2,"x":0.2147,"y":0.9115},{"p":4,"k":2,"x":0.1688,"y":0.8991},{"p":4,"k":2,"x":0.1099,"y":0.866},{"p":4,"k":2,"x":0.0772,"y":0.8246},{"p":4,"k":2,"x":0.0543,"y":0.7792},{"p":4,"k":2,"x":0.0347,"y":0.6965},{"p":4,"k":2,"x":0.0183,"y":0.5724},{"p":4,"k":2,"x":0.0085,"y":0.4814},{"p":4,"k":2,"x":0,"y":0.4},
{"p":4,"k":3,"x":0.2,"y":0},{"p":4,"k":3,"x":0.2212,"y":0.0141},{"p":4,"k":3,"x":0.2866,"y":0.043},{"p":4,"k":3,"x":0.3521,"y":0.0637},{"p":4,"k":3,"x":0.4503,"y":0.0926},{"p":4,"k":3,"x":0.5288,"y":0.1175},{"p":4,"k":3,"x":0.5812,"y":0.134},{"p":4,"k":3,"x":0.6335,"y":0.1547},{"p":4,"k":3,"x":0.6793,"y":0.1878},{"p":4,"k":3,"x":0.7186,"y":0.2208},{"p":4,"k":3,"x":0.7513,"y":0.2539},{"p":4,"k":3,"x":0.7906,"y":0.2829},{"p":4,"k":3,"x":0.8168,"y":0.3242},{"p":4,"k":3,"x":0.8429,"y":0.3821},{"p":4,"k":3,"x":0.856,"y":0.44},{"p":4,"k":3,"x":0.8626,"y":0.531},{"p":4,"k":3,"x":0.8626,"y":0.6303},{"p":4,"k":3,"x":0.856,"y":0.6964},{"p":4,"k":3,"x":0.8462,"y":0.7543},{"p":4,"k":3,"x":0.8298,"y":0.7874},{"p":4,"k":3,"x":0.7938,"y":0.8329},{"p":4,"k":3,"x":0.712,"y":0.8701},{"p":4,"k":3,"x":0.6139,"y":0.9032},{"p":4,"k":3,"x":0.411,"y":0.9347},{"p":4,"k":3,"x":0.2147,"y":0.9347},{"p":4,"k":3,"x":0.1427,"y":0.9156},{"p":4,"k":3,"x":0.0969,"y":0.8867},{"p":4,"k":3,"x":0.0641,"y":0.8412},{"p":4,"k":3,"x":0.0412,"y":0.7874},{"p":4,"k":3,"x":0.0216,"y":0.713},{"p":4,"k":3,"x":0.0118,"y":0.6634},{"p":4,"k":3,"x":0,"y":0.6},
{"p":4,"k":4,"x":0.2667,"y":0},{"p":4,"k":4,"x":0.3194,"y":0.0223},{"p":4,"k":4,"x":0.3848,"y":0.0471},{"p":4,"k":4,"x":0.4503,"y":0.0678},{"p":4,"k":4,"x":0.5484,"y":0.0968},{"p":4,"k":4,"x":0.6466,"y":0.134},{"p":4,"k":4,"x":0.699,"y":0.1588},{"p":4,"k":4,"x":0.7513,"y":0.2043},{"p":4,"k":4,"x":0.7906,"y":0.2498},{"p":4,"k":4,"x":0.8168,"y":0.2912},{"p":4,"k":4,"x":0.8429,"y":0.3408},{"p":4,"k":4,"x":0.8626,"y":0.4152},{"p":4,"k":4,"x":0.8757,"y":0.5062},{"p":4,"k":4,"x":0.8809,"y":0.5972},{"p":4,"k":4,"x":0.8789,"y":0.6716},{"p":4,"k":4,"x":0.8691,"y":0.7295},{"p":4,"k":4,"x":0.8429,"y":0.7957},{"p":4,"k":4,"x":0.8102,"y":0.8453},{"p":4,"k":4,"x":0.7938,"y":0.8619},{"p":4,"k":4,"x":0.712,"y":0.8908},{"p":4,"k":4,"x":0.6139,"y":0.9156},{"p":4,"k":4,"x":0.411,"y":0.9487},{"p":4,"k":4,"x":0.2016,"y":0.9545},{"p":4,"k":4,"x":0.1558,"y":0.9487},{"p":4,"k":4,"x":0.1099,"y":0.9404},{"p":4,"k":4,"x":0.0707,"y":0.928},{"p":4,"k":4,"x":0.0314,"y":0.8991},{"p":4,"k":4,"x":0.0183,"y":0.8701},{"p":4,"k":4,"x":0,"y":0.8},
{"p":4,"k":5,"x":0.3333,"y":0},{"p":4,"k":5,"x":0.3848,"y":0.0141},{"p":4,"k":5,"x":0.4503,"y":0.0347},{"p":4,"k":5,"x":0.5484,"y":0.0678},{"p":4,"k":5,"x":0.6466,"y":0.1009},{"p":4,"k":5,"x":0.712,"y":0.134},{"p":4,"k":5,"x":0.7513,"y":0.1671},{"p":4,"k":5,"x":0.7906,"y":0.2126},{"p":4,"k":5,"x":0.8168,"y":0.2581},{"p":4,"k":5,"x":0.8429,"y":0.3077},{"p":4,"k":5,"x":0.8626,"y":0.3656},{"p":4,"k":5,"x":0.8822,"y":0.4318},{"p":4,"k":5,"x":0.8953,"y":0.5062},{"p":4,"k":5,"x":0.9018,"y":0.5972},{"p":4,"k":5,"x":0.8986,"y":0.6799},{"p":4,"k":5,"x":0.8887,"y":0.7543},{"p":4,"k":5,"x":0.8691,"y":0.8123},{"p":4,"k":5,"x":0.8429,"y":0.8536},{"p":4,"k":5,"x":0.7971,"y":0.8949},{"p":4,"k":5,"x":0.712,"y":0.9198},{"p":4,"k":5,"x":0.6139,"y":0.9404},{"p":4,"k":5,"x":0.411,"y":0.9611},{"p":4,"k":5,"x":0.2147,"y":0.9711},{"p":4,"k":5,"x":0.0707,"y":0.9818},{"p":4,"k":5,"x":0.0314,"y":0.986},{"p":4,"k":5,"x":0,"y":1},
{"p":4,"k":6,"x":0.4,"y":0},{"p":4,"k":6,"x":0.4503,"y":0.0182},{"p":4,"k":6,"x":0.5484,"y":0.0471},{"p":4,"k":6,"x":0.6466,"y":0.0761},{"p":4,"k":6,"x":0.712,"y":0.1009},{"p":4,"k":6,"x":0.7579,"y":0.134},{"p":4,"k":6,"x":0.7971,"y":0.1754},{"p":4,"k":6,"x":0.8298,"y":0.2167},{"p":4,"k":6,"x":0.856,"y":0.2663},{"p":4,"k":6,"x":0.8757,"y":0.3242},{"p":4,"k":6,"x":0.892,"y":0.3987},{"p":4,"k":6,"x":0.9051,"y":0.4979},{"p":4,"k":6,"x":0.9116,"y":0.5972},{"p":4,"k":6,"x":0.9103,"y":0.6799},{"p":4,"k":6,"x":0.9018,"y":0.7626},{"p":4,"k":6,"x":0.8887,"y":0.8288},{"p":4,"k":6,"x":0.8724,"y":0.8701},{"p":4,"k":6,"x":0.8429,"y":0.9032},{"p":4,"k":6,"x":0.7906,"y":0.928},{"p":4,"k":6,"x":0.712,"y":0.9446},{"p":4,"k":6,"x":0.6139,"y":0.9611},{"p":4,"k":6,"x":0.411,"y":0.9818},{"p":4,"k":6,"x":0.2539,"y":0.9942},{"p":4,"k":6,"x":0.2,"y":1},
{"p":4,"k":7,"x":0.4667,"y":0},{"p":4,"k":7,"x":0.5157,"y":0.0141},{"p":4,"k":7,"x":0.5812,"y":0.0306},{"p":4,"k":7,"x":0.6466,"y":0.0513},{"p":4,"k":7,"x":0.712,"y":0.0761},{"p":4,"k":7,"x":0.7906,"y":0.1257},{"p":4,"k":7,"x":0.8364,"y":0.1754},{"p":4,"k":7,"x":0.8691,"y":0.2333},{"p":4,"k":7,"x":0.8953,"y":0.316},{"p":4,"k":7,"x":0.9116,"y":0.407},{"p":4,"k":7,"x":0.9267,"y":0.5062},{"p":4,"k":7,"x":0.928,"y":0.5972},{"p":4,"k":7,"x":0.9267,"y":0.6799},{"p":4,"k":7,"x":0.9202,"y":0.7626},{"p":4,"k":7,"x":0.9084,"y":0.8371},{"p":4,"k":7,"x":0.8887,"y":0.8867},{"p":4,"k":7,"x":0.8626,"y":0.9198},{"p":4,"k":7,"x":0.7906,"y":0.9529},{"p":4,"k":7,"x":0.6466,"y":0.9735},{"p":4,"k":7,"x":0.5157,"y":0.9876},{"p":4,"k":7,"x":0.4,"y":1},
{"p":4,"k":8,"x":0.5333,"y":0},{"p":4,"k":8,"x":0.5812,"y":0.0141},{"p":4,"k":8,"x":0.6466,"y":0.0306},{"p":4,"k":8,"x":0.712,"y":0.0554},{"p":4,"k":8,"x":0.7906,"y":0.0926},{"p":4,"k":8,"x":0.8429,"y":0.1381},{"p":4,"k":8,"x":0.8757,"y":0.1919},{"p":4,"k":8,"x":0.9018,"y":0.2581},{"p":4,"k":8,"x":0.9215,"y":0.3408},{"p":4,"k":8,"x":0.9365,"y":0.4318},{"p":4,"k":8,"x":0.943,"y":0.531},{"p":4,"k":8,"x":0.9444,"y":0.5972},{"p":4,"k":8,"x":0.943,"y":0.6964},{"p":4,"k":8,"x":0.9365,"y":0.7792},{"p":4,"k":8,"x":0.9215,"y":0.8619},{"p":4,"k":8,"x":0.9018,"y":0.9115},{"p":4,"k":8,"x":0.8691,"y":0.9446},{"p":4,"k":8,"x":0.7971,"y":0.9694},{"p":4,"k":8,"x":0.712,"y":0.9859},{"p":4,"k":8,"x":0.6466,"y":0.9959},{"p":4,"k":8,"x":0.6,"y":1},
{"p":4,"k":9,"x":0.6,"y":0},{"p":4,"k":9,"x":0.6466,"y":0.0141},{"p":4,"k":9,"x":0.712,"y":0.0347},{"p":4,"k":9,"x":0.7906,"y":0.0637},{"p":4,"k":9,"x":0.8626,"y":0.1175},{"p":4,"k":9,"x":0.8953,"y":0.1588},{"p":4,"k":9,"x":0.9215,"y":0.225},{"p":4,"k":9,"x":0.9411,"y":0.316},{"p":4,"k":9,"x":0.9542,"y":0.4318},{"p":4,"k":9,"x":0.9607,"y":0.5476},{"p":4,"k":9,"x":0.962,"y":0.6716},{"p":4,"k":9,"x":0.9555,"y":0.7792},{"p":4,"k":9,"x":0.9424,"y":0.8701},{"p":4,"k":9,"x":0.9247,"y":0.928},{"p":4,"k":9,"x":0.8986,"y":0.9653},{"p":4,"k":9,"x":0.8626,"y":0.9859},{"p":4,"k":9,"x":0.8,"y":1},
{"p":4,"k":10,"x":0.6667,"y":0},{"p":4,"k":10,"x":0.712,"y":0.0099},{"p":4,"k":10,"x":0.7906,"y":0.0331},{"p":4,"k":10,"x":0.8429,"y":0.0579},{"p":4,"k":10,"x":0.8887,"y":0.0926},{"p":4,"k":10,"x":0.9215,"y":0.1381},{"p":4,"k":10,"x":0.9444,"y":0.1919},{"p":4,"k":10,"x":0.9607,"y":0.2581},{"p":4,"k":10,"x":0.9719,"y":0.349},{"p":4,"k":10,"x":0.9784,"y":0.4649},{"p":4,"k":10,"x":0.9804,"y":0.5972},{"p":4,"k":10,"x":0.9823,"y":0.713},{"p":4,"k":10,"x":0.9856,"y":0.8784},{"p":4,"k":10,"x":0.9902,"y":0.9611},{"p":4,"k":10,"x":1,"y":1},
{"p":4,"k":11,"x":0.7333,"y":0},{"p":4,"k":11,"x":0.7906,"y":0.0182},{"p":4,"k":11,"x":0.8429,"y":0.043},{"p":4,"k":11,"x":0.8953,"y":0.0844},{"p":4,"k":11,"x":0.928,"y":0.134},{"p":4,"k":11,"x":0.9542,"y":0.1919},{"p":4,"k":11,"x":0.9705,"y":0.2663},{"p":4,"k":11,"x":0.9817,"y":0.3656},{"p":4,"k":11,"x":0.9882,"y":0.4649},{"p":4,"k":11,"x":0.9921,"y":0.5972},{"p":4,"k":11,"x":0.9948,"y":0.713},{"p":4,"k":11,"x":1,"y":0.8},
{"p":4,"k":12,"x":0.8,"y":0},{"p":4,"k":12,"x":0.8429,"y":0.0141},{"p":4,"k":12,"x":0.8757,"y":0.0347},{"p":4,"k":12,"x":0.9084,"y":0.0637},{"p":4,"k":12,"x":0.9346,"y":0.1009},{"p":4,"k":12,"x":0.9542,"y":0.1505},{"p":4,"k":12,"x":0.9738,"y":0.2333},{"p":4,"k":12,"x":0.9869,"y":0.316},{"p":4,"k":12,"x":0.9935,"y":0.4235},{"p":4,"k":12,"x":0.9967,"y":0.5062},{"p":4,"k":12,"x":1,"y":0.6},
{"p":4,"k":13,"x":0.8667,"y":0},{"p":4,"k":13,"x":0.8953,"y":0.0182},{"p":4,"k":13,"x":0.9215,"y":0.0471},{"p":4,"k":13,"x":0.9411,"y":0.0761},{"p":4,"k":13,"x":0.9575,"y":0.1175},{"p":4,"k":13,"x":0.9738,"y":0.1754},{"p":4,"k":13,"x":0.9869,"y":0.2415},{"p":4,"k":13,"x":0.9948,"y":0.316},{"p":4,"k":13,"x":1,"y":0.4},
{"p":4,"k":14,"x":0.9333,"y":0},{"p":4,"k":14,"x":0.9542,"y":0.0182},{"p":4,"k":14,"x":0.9673,"y":0.043},{"p":4,"k":14,"x":0.9804,"y":0.0844},{"p":4,"k":14,"x":0.9902,"y":0.134},{"p":4,"k":14,"x":1,"y":0.2},
{"p":5,"k":1,"x":0.0667,"y":0},{"p":5,"k":1,"x":0.0628,"y":0.0496},{"p":5,"k":1,"x":0.0556,"y":0.0909},{"p":5,"k":1,"x":0.0478,"y":0.124},{"p":5,"k":1,"x":0.038,"y":0.1446},{"p":5,"k":1,"x":0.0249,"y":0.1653},{"p":5,"k":1,"x":0.0085,"y":0.186},{"p":5,"k":1,"x":0,"y":0.2},
{"p":5,"k":2,"x":0.1333,"y":0},{"p":5,"k":2,"x":0.1394,"y":0.0331},{"p":5,"k":2,"x":0.1492,"y":0.0826},{"p":5,"k":2,"x":0.1688,"y":0.1322},{"p":5,"k":2,"x":0.1885,"y":0.1736},{"p":5,"k":2,"x":0.2081,"y":0.2025},{"p":5,"k":2,"x":0.2441,"y":0.2479},{"p":5,"k":2,"x":0.2736,"y":0.281},{"p":5,"k":2,"x":0.3063,"y":0.3099},{"p":5,"k":2,"x":0.3455,"y":0.3388},{"p":5,"k":2,"x":0.3783,"y":0.3554},{"p":5,"k":2,"x":0.411,"y":0.3843},{"p":5,"k":2,"x":0.4306,"y":0.4174},{"p":5,"k":2,"x":0.4437,"y":0.4463},{"p":5,"k":2,"x":0.4634,"y":0.4835},{"p":5,"k":2,"x":0.4712,"y":0.5165},{"p":5,"k":2,"x":0.4719,"y":0.5868},{"p":5,"k":2,"x":0.4601,"y":0.624},{"p":5,"k":2,"x":0.4437,"y":0.6529},{"p":5,"k":2,"x":0.4143,"y":0.6901},{"p":5,"k":2,"x":0.3815,"y":0.7},{"p":5,"k":2,"x":0.2081,"y":0.6959},{"p":5,"k":2,"x":0.1754,"y":0.6694},{"p":5,"k":2,"x":0.1427,"y":0.6322},{"p":5,"k":2,"x":0.1198,"y":0.595},{"p":5,"k":2,"x":0.0969,"y":0.5455},{"p":5,"k":2,"x":0.0641,"y":0.4876},{"p":5,"k":2,"x":0.038,"y":0.4421},{"p":5,"k":2,"x":0.0183,"y":0.4174},{"p":5,"k":2,"x":0,"y":0.3983},
{"p":5,"k":3,"x":0.2,"y":0},{"p":5,"k":3,"x":0.2147,"y":0.0331},{"p":5,"k":3,"x":0.2408,"y":0.0868},{"p":5,"k":3,"x":0.2703,"y":0.1322},{"p":5,"k":3,"x":0.2997,"y":0.1736},{"p":5,"k":3,"x":0.3521,"y":0.2149},{"p":5,"k":3,"x":0.3848,"y":0.2397},{"p":5,"k":3,"x":0.4143,"y":0.2711},{"p":5,"k":3,"x":0.4437,"y":0.3058},{"p":5,"k":3,"x":0.4764,"y":0.3512},{"p":5,"k":3,"x":0.5223,"y":0.4132},{"p":5,"k":3,"x":0.555,"y":0.4876},{"p":5,"k":3,"x":0.5713,"y":0.5207},{"p":5,"k":3,"x":0.5779,"y":0.5868},{"p":5,"k":3,"x":0.5681,"y":0.6281},{"p":5,"k":3,"x":0.555,"y":0.6529},{"p":5,"k":3,"x":0.5353,"y":0.6901},{"p":5,"k":3,"x":0.4961,"y":0.719},{"p":5,"k":3,"x":0.4503,"y":0.7521},{"p":5,"k":3,"x":0.4143,"y":0.781},{"p":5,"k":3,"x":0.3783,"y":0.7893},{"p":5,"k":3,"x":0.2081,"y":0.7959},{"p":5,"k":3,"x":0.1688,"y":0.7851},{"p":5,"k":3,"x":0.1361,"y":0.7645},{"p":5,"k":3,"x":0.1001,"y":0.7355},{"p":5,"k":3,"x":0.0707,"y":0.7025},{"p":5,"k":3,"x":0.038,"y":0.6529},{"p":5,"k":3,"x":0.0183,"y":0.6281},{"p":5,"k":3,"x":0,"y":0.5992},
{"p":5,"k":4,"x":0.2667,"y":0},{"p":5,"k":4,"x":0.2866,"y":0.0372},{"p":5,"k":4,"x":0.3194,"y":0.0826},{"p":5,"k":4,"x":0.3521,"y":0.124},{"p":5,"k":4,"x":0.411,"y":0.1818},{"p":5,"k":4,"x":0.4503,"y":0.2231},{"p":5,"k":4,"x":0.5157,"y":0.2975},{"p":5,"k":4,"x":0.5844,"y":0.376},{"p":5,"k":4,"x":0.6073,"y":0.4215},{"p":5,"k":4,"x":0.627,"y":0.4628},{"p":5,"k":4,"x":0.6368,"y":0.5124},{"p":5,"k":4,"x":0.642,"y":0.5868},{"p":5,"k":4,"x":0.6368,"y":0.6446},{"p":5,"k":4,"x":0.627,"y":0.6942},{"p":5,"k":4,"x":0.6073,"y":0.7273},{"p":5,"k":4,"x":0.5844,"y":0.7562},{"p":5,"k":4,"x":0.5288,"y":0.7934},{"p":5,"k":4,"x":0.4503,"y":0.8306},{"p":5,"k":4,"x":0.3848,"y":0.8529},{"p":5,"k":4,"x":0.2081,"y":0.8719},{"p":5,"k":4,"x":0.1558,"y":0.8636},{"p":5,"k":4,"x":0.1034,"y":0.8554},{"p":5,"k":4,"x":0.0412,"y":0.8306},{"p":5,"k":4,"x":0,"y":0.8017},
{"p":5,"k":5,"x":0.3333,"y":0},{"p":5,"k":5,"x":0.3586,"y":0.0331},{"p":5,"k":5,"x":0.3914,"y":0.0744},{"p":5,"k":5,"x":0.4503,"y":0.1405},{"p":5,"k":5,"x":0.5157,"y":0.2149},{"p":5,"k":5,"x":0.5812,"y":0.281},{"p":5,"k":5,"x":0.6139,"y":0.3306},{"p":5,"k":5,"x":0.6466,"y":0.3967},{"p":5,"k":5,"x":0.6793,"y":0.4876},{"p":5,"k":5,"x":0.6957,"y":0.5868},{"p":5,"k":5,"x":0.6826,"y":0.6942},{"p":5,"k":5,"x":0.6401,"y":0.7934},{"p":5,"k":5,"x":0.6204,"y":0.8099},{"p":5,"k":5,"x":0.5844,"y":0.8372},{"p":5,"k":5,"x":0.5157,"y":0.8636},{"p":5,"k":5,"x":0.4175,"y":0.9025},{"p":5,"k":5,"x":0.2081,"y":0.938},{"p":5,"k":5,"x":0.1099,"y":0.9504},{"p":5,"k":5,"x":0.051,"y":0.9628},{"p":5,"k":5,"x":0.0249,"y":0.9793},{"p":5,"k":5,"x":0,"y":1},
{"p":5,"k":6,"x":0.4,"y":0},{"p":5,"k":6,"x":0.4503,"y":0.0496},{"p":5,"k":6,"x":0.5157,"y":0.124},{"p":5,"k":6,"x":0.5812,"y":0.2025},{"p":5,"k":6,"x":0.6335,"y":0.2727},{"p":5,"k":6,"x":0.6728,"y":0.3388},{"p":5,"k":6,"x":0.7055,"y":0.4132},{"p":5,"k":6,"x":0.7382,"y":0.5124},{"p":5,"k":6,"x":0.7493,"y":0.5868},{"p":5,"k":6,"x":0.7493,"y":0.6281},{"p":5,"k":6,"x":0.7382,"y":0.7107},{"p":5,"k":6,"x":0.7055,"y":0.7934},{"p":5,"k":6,"x":0.6793,"y":0.8264},{"p":5,"k":6,"x":0.6204,"y":0.876},{"p":5,"k":6,"x":0.5844,"y":0.9008},{"p":5,"k":6,"x":0.5157,"y":0.924},{"p":5,"k":6,"x":0.4175,"y":0.9504},{"p":5,"k":6,"x":0.2,"y":1},
{"p":5,"k":7,"x":0.4667,"y":0},{"p":5,"k":7,"x":0.5157,"y":0.0537},{"p":5,"k":7,"x":0.5812,"y":0.1281},{"p":5,"k":7,"x":0.6466,"y":0.2149},{"p":5,"k":7,"x":0.699,"y":0.2934},{"p":5,"k":7,"x":0.7513,"y":0.3967},{"p":5,"k":7,"x":0.7873,"y":0.5041},{"p":5,"k":7,"x":0.8004,"y":0.5868},{"p":5,"k":7,"x":0.8023,"y":0.686},{"p":5,"k":7,"x":0.7906,"y":0.7521},{"p":5,"k":7,"x":0.7742,"y":0.7934},{"p":5,"k":7,"x":0.7448,"y":0.8388},{"p":5,"k":7,"x":0.699,"y":0.8967},{"p":5,"k":7,"x":0.6139,"y":0.9298},{"p":5,"k":7,"x":0.5812,"y":0.9421},{"p":5,"k":7,"x":0.4,"y":1},
{"p":5,"k":8,"x":0.5333,"y":0},{"p":5,"k":8,"x":0.5812,"y":0.0496},{"p":5,"k":8,"x":0.6466,"y":0.1198},{"p":5,"k":8,"x":0.6859,"y":0.1653},{"p":5,"k":8,"x":0.7317,"y":0.2397},{"p":5,"k":8,"x":0.7906,"y":0.3719},{"p":5,"k":8,"x":0.8233,"y":0.4793},{"p":5,"k":8,"x":0.8397,"y":0.5868},{"p":5,"k":8,"x":0.8462,"y":0.6942},{"p":5,"k":8,"x":0.8429,"y":0.7934},{"p":5,"k":8,"x":0.8298,"y":0.8595},{"p":5,"k":8,"x":0.7938,"y":0.905},{"p":5,"k":8,"x":0.7448,"y":0.9421},{"p":5,"k":8,"x":0.6793,"y":0.9711},{"p":5,"k":8,"x":0.6,"y":1},
{"p":5,"k":9,"x":0.6,"y":0},{"p":5,"k":9,"x":0.6466,"y":0.0455},{"p":5,"k":9,"x":0.6924,"y":0.1116},{"p":5,"k":9,"x":0.7448,"y":0.1818},{"p":5,"k":9,"x":0.7938,"y":0.2686},{"p":5,"k":9,"x":0.8298,"y":0.3471},{"p":5,"k":9,"x":0.8626,"y":0.4628},{"p":5,"k":9,"x":0.8822,"y":0.5868},{"p":5,"k":9,"x":0.8907,"y":0.7107},{"p":5,"k":9,"x":0.892,"y":0.8347},{"p":5,"k":9,"x":0.8822,"y":0.8967},{"p":5,"k":9,"x":0.8626,"y":0.938},{"p":5,"k":9,"x":0.8429,"y":0.9669},{"p":5,"k":9,"x":0.8,"y":1},
{"p":5,"k":10,"x":0.6667,"y":0},{"p":5,"k":10,"x":0.712,"y":0.0496},{"p":5,"k":10,"x":0.7448,"y":0.0909},{"p":5,"k":10,"x":0.7938,"y":0.1736},{"p":5,"k":10,"x":0.8364,"y":0.2562},{"p":5,"k":10,"x":0.8626,"y":0.3388},{"p":5,"k":10,"x":0.8953,"y":0.4628},{"p":5,"k":10,"x":0.9215,"y":0.595},{"p":5,"k":10,"x":0.9346,"y":0.7107},{"p":5,"k":10,"x":0.9476,"y":0.8347},{"p":5,"k":10,"x":0.9575,"y":0.9174},{"p":5,"k":10,"x":0.9771,"y":0.9669},{"p":5,"k":10,"x":1,"y":1},
{"p":5,"k":11,"x":0.7333,"y":0},{"p":5,"k":11,"x":0.7775,"y":0.0496},{"p":5,"k":11,"x":0.8102,"y":0.0992},{"p":5,"k":11,"x":0.8364,"y":0.1488},{"p":5,"k":11,"x":0.8691,"y":0.2231},{"p":5,"k":11,"x":0.8953,"y":0.2975},{"p":5,"k":11,"x":0.9215,"y":0.3802},{"p":5,"k":11,"x":0.9411,"y":0.4793},{"p":5,"k":11,"x":0.9607,"y":0.5868},{"p":5,"k":11,"x":0.9738,"y":0.6694},{"p":5,"k":11,"x":0.9869,"y":0.7355},{"p":5,"k":11,"x":1,"y":0.8},
{"p":5,"k":12,"x":0.8,"y":0},{"p":5,"k":12,"x":0.8429,"y":0.0496},{"p":5,"k":12,"x":0.8757,"y":0.1074},{"p":5,"k":12,"x":0.9084,"y":0.1818},{"p":5,"k":12,"x":0.9346,"y":0.2645},{"p":5,"k":12,"x":0.9542,"y":0.3471},{"p":5,"k":12,"x":0.9738,"y":0.4463},{"p":5,"k":12,"x":0.9869,"y":0.5041},{"p":5,"k":12,"x":1,"y":0.6},
{"p":5,"k":13,"x":0.8667,"y":0},{"p":5,"k":13,"x":0.9018,"y":0.0496},{"p":5,"k":13,"x":0.9215,"y":0.0992},{"p":5,"k":13,"x":0.9476,"y":0.1818},{"p":5,"k":13,"x":0.9673,"y":0.2479},{"p":5,"k":13,"x":0.9869,"y":0.3223},{"p":5,"k":13,"x":1,"y":0.4},
{"p":5,"k":14,"x":0.9333,"y":0},{"p":5,"k":14,"x":0.9542,"y":0.0413},{"p":5,"k":14,"x":0.9738,"y":0.0992},{"p":5,"k":14,"x":0.9869,"y":0.1488},{"p":5,"k":14,"x":1,"y":0.2},
{"p":6,"k":1,"x":0.0667,"y":0},{"p":6,"k":1,"x":0.051,"y":0.0645},{"p":6,"k":1,"x":0.0314,"y":0.1223},{"p":6,"k":1,"x":0.0151,"y":0.1636},{"p":6,"k":1,"x":0,"y":0.2},
{"p":6,"k":2,"x":0.1333,"y":0},{"p":6,"k":2,"x":0.123,"y":0.0645},{"p":6,"k":2,"x":0.1067,"y":0.1388},{"p":6,"k":2,"x":0.0838,"y":0.2132},{"p":6,"k":2,"x":0.0576,"y":0.2793},{"p":6,"k":2,"x":0.0314,"y":0.3372},{"p":6,"k":2,"x":0,"y":0.4},
{"p":6,"k":3,"x":0.2,"y":0},{"p":6,"k":3,"x":0.1918,"y":0.0727},{"p":6,"k":3,"x":0.1787,"y":0.1554},{"p":6,"k":3,"x":0.1558,"y":0.2545},{"p":6,"k":3,"x":0.1296,"y":0.3372},{"p":6,"k":3,"x":0.0969,"y":0.4198},{"p":6,"k":3,"x":0.0641,"y":0.486},{"p":6,"k":3,"x":0.0314,"y":0.5438},{"p":6,"k":3,"x":0,"y":0.6},
{"p":6,"k":4,"x":0.2667,"y":0},{"p":6,"k":4,"x":0.2618,"y":0.0975},{"p":6,"k":4,"x":0.2539,"y":0.1802},{"p":6,"k":4,"x":0.2408,"y":0.2711},{"p":6,"k":4,"x":0.2212,"y":0.362},{"p":6,"k":4,"x":0.2016,"y":0.4364},{"p":6,"k":4,"x":0.1688,"y":0.519},{"p":6,"k":4,"x":0.1296,"y":0.6099},{"p":6,"k":4,"x":0.0838,"y":0.6843},{"p":6,"k":4,"x":0.038,"y":0.7421},{"p":6,"k":4,"x":0,"y":0.8},
{"p":6,"k":5,"x":0.3333,"y":0},{"p":6,"k":5,"x":0.3325,"y":0.0975},{"p":6,"k":5,"x":0.3292,"y":0.205},{"p":6,"k":5,"x":0.324,"y":0.3041},{"p":6,"k":5,"x":0.3141,"y":0.4033},{"p":6,"k":5,"x":0.2952,"y":0.5025},{"p":6,"k":5,"x":0.2703,"y":0.5934},{"p":6,"k":5,"x":0.2376,"y":0.676},{"p":6,"k":5,"x":0.1918,"y":0.7587},{"p":6,"k":5,"x":0.1361,"y":0.8331},{"p":6,"k":5,"x":0.0707,"y":0.9074},{"p":6,"k":5,"x":0,"y":1},
{"p":6,"k":6,"x":0.4,"y":0},{"p":6,"k":6,"x":0.4077,"y":0.1388},{"p":6,"k":6,"x":0.4143,"y":0.3041},{"p":6,"k":6,"x":0.4162,"y":0.4033},{"p":6,"k":6,"x":0.413,"y":0.5107},{"p":6,"k":6,"x":0.4058,"y":0.5934},{"p":6,"k":6,"x":0.3881,"y":0.6926},{"p":6,"k":6,"x":0.3554,"y":0.7876},{"p":6,"k":6,"x":0.3096,"y":0.8702},{"p":6,"k":6,"x":0.2572,"y":0.9364},{"p":6,"k":6,"x":0.2,"y":1},
{"p":6,"k":7,"x":0.4667,"y":0},{"p":6,"k":7,"x":0.4764,"y":0.0975},{"p":6,"k":7,"x":0.4895,"y":0.2215},{"p":6,"k":7,"x":0.5026,"y":0.3455},{"p":6,"k":7,"x":0.5124,"y":0.4694},{"p":6,"k":7,"x":0.5144,"y":0.5851},{"p":6,"k":7,"x":0.5092,"y":0.6926},{"p":6,"k":7,"x":0.4948,"y":0.7876},{"p":6,"k":7,"x":0.4699,"y":0.8661},{"p":6,"k":7,"x":0.4372,"y":0.9322},{"p":6,"k":7,"x":0.4,"y":1},
{"p":6,"k":8,"x":0.5333,"y":0},{"p":6,"k":8,"x":0.5484,"y":0.0934},{"p":6,"k":8,"x":0.5681,"y":0.2091},{"p":6,"k":8,"x":0.5857,"y":0.3248},{"p":6,"k":8,"x":0.6041,"y":0.4405},{"p":6,"k":8,"x":0.6204,"y":0.5851},{"p":6,"k":8,"x":0.6283,"y":0.7174},{"p":6,"k":8,"x":0.6289,"y":0.8},{"p":6,"k":8,"x":0.6217,"y":0.9074},{"p":6,"k":8,"x":0.6,"y":1},
{"p":6,"k":9,"x":0.6,"y":0},{"p":6,"k":9,"x":0.6204,"y":0.0975},{"p":6,"k":9,"x":0.6466,"y":0.2132},{"p":6,"k":9,"x":0.678,"y":0.3702},{"p":6,"k":9,"x":0.7042,"y":0.5025},{"p":6,"k":9,"x":0.7238,"y":0.6017},{"p":6,"k":9,"x":0.7435,"y":0.7174},{"p":6,"k":9,"x":0.7631,"y":0.8413},{"p":6,"k":9,"x":0.7775,"y":0.924},{"p":6,"k":9,"x":0.8,"y":1},
{"p":6,"k":10,"x":0.6667,"y":0},{"p":6,"k":10,"x":0.6859,"y":0.081},{"p":6,"k":10,"x":0.712,"y":0.1802},{"p":6,"k":10,"x":0.7382,"y":0.2959},{"p":6,"k":10,"x":0.7709,"y":0.4281},{"p":6,"k":10,"x":0.8037,"y":0.5521},{"p":6,"k":10,"x":0.8429,"y":0.676},{"p":6,"k":10,"x":0.8822,"y":0.7835},{"p":6,"k":10,"x":0.928,"y":0.8909},{"p":6,"k":10,"x":0.9738,"y":0.9653},{"p":6,"k":10,"x":1,"y":1},
{"p":6,"k":11,"x":0.7333,"y":0},{"p":6,"k":11,"x":0.7579,"y":0.0893},{"p":6,"k":11,"x":0.7873,"y":0.1967},{"p":6,"k":11,"x":0.8233,"y":0.3207},{"p":6,"k":11,"x":0.8626,"y":0.4364},{"p":6,"k":11,"x":0.9018,"y":0.5521},{"p":6,"k":11,"x":0.9411,"y":0.6595},{"p":6,"k":11,"x":0.9738,"y":0.7339},{"p":6,"k":11,"x":1,"y":0.8},
{"p":6,"k":12,"x":0.8,"y":0},{"p":6,"k":12,"x":0.8233,"y":0.0727},{"p":6,"k":12,"x":0.8495,"y":0.1636},{"p":6,"k":12,"x":0.8887,"y":0.2876},{"p":6,"k":12,"x":0.928,"y":0.395},{"p":6,"k":12,"x":0.9673,"y":0.5025},{"p":6,"k":12,"x":1,"y":0.6},
{"p":6,"k":13,"x":0.8667,"y":0},{"p":6,"k":13,"x":0.8855,"y":0.0562},{"p":6,"k":13,"x":0.9149,"y":0.1471},{"p":6,"k":13,"x":0.9476,"y":0.2463},{"p":6,"k":13,"x":0.9804,"y":0.3455},{"p":6,"k":13,"x":1,"y":0.4},
{"p":6,"k":14,"x":0.9333,"y":0},{"p":6,"k":14,"x":0.9542,"y":0.0562},{"p":6,"k":14,"x":0.9804,"y":0.1306},{"p":6,"k":14,"x":1,"y":0.2},
{"p":7,"k":1,"x":0.0667,"y":0},{"p":7,"k":1,"x":0.053,"y":0.0479},{"p":7,"k":1,"x":0.0334,"y":0.1057},{"p":7,"k":1,"x":0.017,"y":0.1552},{"p":7,"k":1,"x":0,"y":0.2},
{"p":7,"k":2,"x":0.1333,"y":0},{"p":7,"k":2,"x":0.1217,"y":0.0562},{"p":7,"k":2,"x":0.1054,"y":0.1305},{"p":7,"k":2,"x":0.0857,"y":0.2048},{"p":7,"k":2,"x":0.0596,"y":0.2791},{"p":7,"k":2,"x":0.0334,"y":0.3369},{"p":7,"k":2,"x":0,"y":0.4},
{"p":7,"k":3,"x":0.2,"y":0},{"p":7,"k":3,"x":0.1904,"y":0.0644},{"p":7,"k":3,"x":0.1774,"y":0.1387},{"p":7,"k":3,"x":0.1577,"y":0.2296},{"p":7,"k":3,"x":0.1315,"y":0.3204},{"p":7,"k":3,"x":0.0988,"y":0.4112},{"p":7,"k":3,"x":0.0661,"y":0.4856},{"p":7,"k":3,"x":0.0334,"y":0.5434},{"p":7,"k":3,"x":0,"y":0.6},
{"p":7,"k":4,"x":0.2667,"y":0},{"p":7,"k":4,"x":0.2624,"y":0.0644},{"p":7,"k":4,"x":0.2526,"y":0.1635},{"p":7,"k":4,"x":0.2395,"y":0.2461},{"p":7,"k":4,"x":0.2199,"y":0.3369},{"p":7,"k":4,"x":0.197,"y":0.4195},{"p":7,"k":4,"x":0.1675,"y":0.5021},{"p":7,"k":4,"x":0.1315,"y":0.5846},{"p":7,"k":4,"x":0.0923,"y":0.659},{"p":7,"k":4,"x":0.0465,"y":0.7333},{"p":7,"k":4,"x":0,"y":0.8},
{"p":7,"k":5,"x":0.3333,"y":0},{"p":7,"k":5,"x":0.3312,"y":0.0809},{"p":7,"k":5,"x":0.3246,"y":0.1718},{"p":7,"k":5,"x":0.3148,"y":0.2709},{"p":7,"k":5,"x":0.2984,"y":0.3699},{"p":7,"k":5,"x":0.2755,"y":0.469},{"p":7,"k":5,"x":0.2428,"y":0.5681},{"p":7,"k":5,"x":0.2101,"y":0.6507},{"p":7,"k":5,"x":0.1643,"y":0.7415},{"p":7,"k":5,"x":0.1119,"y":0.8324},{"p":7,"k":5,"x":0.0596,"y":0.9067},{"p":7,"k":5,"x":0,"y":1},
{"p":7,"k":6,"x":0.4,"y":0},{"p":7,"k":6,"x":0.3966,"y":0.0809},{"p":7,"k":6,"x":0.3868,"y":0.2048},{"p":7,"k":6,"x":0.3737,"y":0.3204},{"p":7,"k":6,"x":0.3573,"y":0.436},{"p":7,"k":6,"x":0.3377,"y":0.5516},{"p":7,"k":6,"x":0.3161,"y":0.6507},{"p":7,"k":6,"x":0.2886,"y":0.7498},{"p":7,"k":6,"x":0.2559,"y":0.8406},{"p":7,"k":6,"x":0.2264,"y":0.9232},{"p":7,"k":6,"x":0.2,"y":1},
{"p":7,"k":7,"x":0.4667,"y":0},{"p":7,"k":7,"x":0.4666,"y":0.0809},{"p":7,"k":7,"x":0.4627,"y":0.2461},{"p":7,"k":7,"x":0.4561,"y":0.4195},{"p":7,"k":7,"x":0.447,"y":0.6012},{"p":7,"k":7,"x":0.4339,"y":0.7415},{"p":7,"k":7,"x":0.4195,"y":0.8654},{"p":7,"k":7,"x":0.4,"y":1},
{"p":7,"k":8,"x":0.5333,"y":0},{"p":7,"k":8,"x":0.5373,"y":0.1222},{"p":7,"k":8,"x":0.5438,"y":0.3039},{"p":7,"k":8,"x":0.5517,"y":0.469},{"p":7,"k":8,"x":0.5609,"y":0.6177},{"p":7,"k":8,"x":0.5733,"y":0.7663},{"p":7,"k":8,"x":0.5864,"y":0.8984},{"p":7,"k":8,"x":0.6,"y":1},
{"p":7,"k":9,"x":0.6,"y":0},{"p":7,"k":9,"x":0.6093,"y":0.1222},{"p":7,"k":9,"x":0.6224,"y":0.2709},{"p":7,"k":9,"x":0.642,"y":0.4195},{"p":7,"k":9,"x":0.6629,"y":0.5516},{"p":7,"k":9,"x":0.6891,"y":0.6837},{"p":7,"k":9,"x":0.7205,"y":0.7911},{"p":7,"k":9,"x":0.7546,"y":0.8819},{"p":7,"k":9,"x":0.8,"y":1},
{"p":7,"k":10,"x":0.6667,"y":0},{"p":7,"k":10,"x":0.678,"y":0.0809},{"p":7,"k":10,"x":0.6944,"y":0.2048},{"p":7,"k":10,"x":0.714,"y":0.3121},{"p":7,"k":10,"x":0.7402,"y":0.436},{"p":7,"k":10,"x":0.7729,"y":0.5516},{"p":7,"k":10,"x":0.8122,"y":0.6672},{"p":7,"k":10,"x":0.858,"y":0.7663},{"p":7,"k":10,"x":0.9103,"y":0.8571},{"p":7,"k":10,"x":0.9562,"y":0.9315},{"p":7,"k":10,"x":1,"y":1},
{"p":7,"k":11,"x":0.7333,"y":0},{"p":7,"k":11,"x":0.7467,"y":0.0809},{"p":7,"k":11,"x":0.7664,"y":0.18},{"p":7,"k":11,"x":0.7925,"y":0.2874},{"p":7,"k":11,"x":0.8253,"y":0.403},{"p":7,"k":11,"x":0.8645,"y":0.5186},{"p":7,"k":11,"x":0.9103,"y":0.6342},{"p":7,"k":11,"x":0.9562,"y":0.725},{"p":7,"k":11,"x":1,"y":0.8},
{"p":7,"k":12,"x":0.8,"y":0},{"p":7,"k":12,"x":0.8154,"y":0.0809},{"p":7,"k":12,"x":0.8383,"y":0.1718},{"p":7,"k":12,"x":0.8711,"y":0.2709},{"p":7,"k":12,"x":0.9103,"y":0.3782},{"p":7,"k":12,"x":0.9431,"y":0.4525},{"p":7,"k":12,"x":0.9758,"y":0.5186},{"p":7,"k":12,"x":1,"y":0.6},
{"p":7,"k":13,"x":0.8667,"y":0},{"p":7,"k":13,"x":0.8842,"y":0.0644},{"p":7,"k":13,"x":0.9103,"y":0.147},{"p":7,"k":13,"x":0.9365,"y":0.2213},{"p":7,"k":13,"x":0.9692,"y":0.3121},{"p":7,"k":13,"x":1,"y":0.4},
{"p":7,"k":14,"x":0.9333,"y":0},{"p":7,"k":14,"x":0.9496,"y":0.0562},{"p":7,"k":14,"x":0.9692,"y":0.114},{"p":7,"k":14,"x":1,"y":0.2},
{"p":8,"k":1,"x":0.0667,"y":0},{"p":8,"k":1,"x":0.0556,"y":0.0455},{"p":8,"k":1,"x":0.036,"y":0.1033},{"p":8,"k":1,"x":0.0164,"y":0.1529},{"p":8,"k":1,"x":0,"y":0.2},
{"p":8,"k":2,"x":0.1333,"y":0},{"p":8,"k":2,"x":0.1211,"y":0.062},{"p":8,"k":2,"x":0.1047,"y":0.1364},{"p":8,"k":2,"x":0.0818,"y":0.2107},{"p":8,"k":2,"x":0.0556,"y":0.2769},{"p":8,"k":2,"x":0.0295,"y":0.3347},{"p":8,"k":2,"x":0,"y":0.4},
{"p":8,"k":3,"x":0.2,"y":0},{"p":8,"k":3,"x":0.1898,"y":0.0702},{"p":8,"k":3,"x":0.1734,"y":0.1529},{"p":8,"k":3,"x":0.1538,"y":0.2355},{"p":8,"k":3,"x":0.1276,"y":0.3264},{"p":8,"k":3,"x":0.0949,"y":0.4174},{"p":8,"k":3,"x":0.0622,"y":0.4917},{"p":8,"k":3,"x":0.0295,"y":0.5496},{"p":8,"k":3,"x":0,"y":0.6},
{"p":8,"k":4,"x":0.2667,"y":0},{"p":8,"k":4,"x":0.2618,"y":0.0702},{"p":8,"k":4,"x":0.252,"y":0.1612},{"p":8,"k":4,"x":0.2389,"y":0.2438},{"p":8,"k":4,"x":0.2193,"y":0.3347},{"p":8,"k":4,"x":0.1931,"y":0.4256},{"p":8,"k":4,"x":0.1636,"y":0.5083},{"p":8,"k":4,"x":0.1276,"y":0.5909},{"p":8,"k":4,"x":0.0884,"y":0.6653},{"p":8,"k":4,"x":0.0425,"y":0.7397},{"p":8,"k":4,"x":0,"y":0.8},
{"p":8,"k":5,"x":0.3333,"y":0},{"p":8,"k":5,"x":0.3305,"y":0.0868},{"p":8,"k":5,"x":0.324,"y":0.1777},{"p":8,"k":5,"x":0.3141,"y":0.2769},{"p":8,"k":5,"x":0.2978,"y":0.376},{"p":8,"k":5,"x":0.2749,"y":0.4752},{"p":8,"k":5,"x":0.2421,"y":0.5744},{"p":8,"k":5,"x":0.2062,"y":0.657},{"p":8,"k":5,"x":0.1603,"y":0.7479},{"p":8,"k":5,"x":0.108,"y":0.8388},{"p":8,"k":5,"x":0.0556,"y":0.9215},{"p":8,"k":5,"x":0,"y":1},
{"p":8,"k":6,"x":0.4,"y":0},{"p":8,"k":6,"x":0.3959,"y":0.0868},{"p":8,"k":6,"x":0.3861,"y":0.2107},{"p":8,"k":6,"x":0.373,"y":0.3264},{"p":8,"k":6,"x":0.3567,"y":0.4421},{"p":8,"k":6,"x":0.337,"y":0.5579},{"p":8,"k":6,"x":0.3141,"y":0.657},{"p":8,"k":6,"x":0.2847,"y":0.7562},{"p":8,"k":6,"x":0.252,"y":0.8512},{"p":8,"k":6,"x":0.2225,"y":0.9298},{"p":8,"k":6,"x":0.2,"y":1},
{"p":8,"k":7,"x":0.4667,"y":0},{"p":8,"k":7,"x":0.4653,"y":0.0868},{"p":8,"k":7,"x":0.4614,"y":0.2521},{"p":8,"k":7,"x":0.4548,"y":0.4256},{"p":8,"k":7,"x":0.447,"y":0.6074},{"p":8,"k":7,"x":0.4339,"y":0.7479},{"p":8,"k":7,"x":0.4188,"y":0.8802},{"p":8,"k":7,"x":0.4,"y":1},
{"p":8,"k":8,"x":0.5333,"y":0},{"p":8,"k":8,"x":0.5366,"y":0.1281},{"p":8,"k":8,"x":0.5432,"y":0.3099},{"p":8,"k":8,"x":0.551,"y":0.4752},{"p":8,"k":8,"x":0.5596,"y":0.624},{"p":8,"k":8,"x":0.5713,"y":0.7727},{"p":8,"k":8,"x":0.5857,"y":0.905},{"p":8,"k":8,"x":0.6,"y":1},
{"p":8,"k":9,"x":0.6,"y":0},{"p":8,"k":9,"x":0.6086,"y":0.1281},{"p":8,"k":9,"x":0.6217,"y":0.2769},{"p":8,"k":9,"x":0.6414,"y":0.4256},{"p":8,"k":9,"x":0.661,"y":0.5579},{"p":8,"k":9,"x":0.6872,"y":0.6901},{"p":8,"k":9,"x":0.7199,"y":0.7975},{"p":8,"k":9,"x":0.7526,"y":0.8884},{"p":8,"k":9,"x":0.8,"y":1},
{"p":8,"k":10,"x":0.6667,"y":0},{"p":8,"k":10,"x":0.6774,"y":0.0868},{"p":8,"k":10,"x":0.6937,"y":0.2107},{"p":8,"k":10,"x":0.7134,"y":0.3182},{"p":8,"k":10,"x":0.7395,"y":0.4421},{"p":8,"k":10,"x":0.7723,"y":0.5579},{"p":8,"k":10,"x":0.8115,"y":0.6736},{"p":8,"k":10,"x":0.8573,"y":0.7727},{"p":8,"k":10,"x":0.9097,"y":0.8636},{"p":8,"k":10,"x":0.9555,"y":0.938},{"p":8,"k":10,"x":1,"y":1},
{"p":8,"k":11,"x":0.7333,"y":0},{"p":8,"k":11,"x":0.7461,"y":0.0868},{"p":8,"k":11,"x":0.7657,"y":0.186},{"p":8,"k":11,"x":0.7919,"y":0.2934},{"p":8,"k":11,"x":0.8246,"y":0.4091},{"p":8,"k":11,"x":0.8639,"y":0.5248},{"p":8,"k":11,"x":0.9097,"y":0.6405},{"p":8,"k":11,"x":0.9555,"y":0.7314},{"p":8,"k":11,"x":1,"y":0.8},
{"p":8,"k":12,"x":0.8,"y":0},{"p":8,"k":12,"x":0.8148,"y":0.0868},{"p":8,"k":12,"x":0.8377,"y":0.1777},{"p":8,"k":12,"x":0.8704,"y":0.2769},{"p":8,"k":12,"x":0.9097,"y":0.3843},{"p":8,"k":12,"x":0.9424,"y":0.4587},{"p":8,"k":12,"x":0.9751,"y":0.5248},{"p":8,"k":12,"x":1,"y":0.6},
{"p":8,"k":13,"x":0.8667,"y":0},{"p":8,"k":13,"x":0.8835,"y":0.0702},{"p":8,"k":13,"x":0.9097,"y":0.1529},{"p":8,"k":13,"x":0.9359,"y":0.2273},{"p":8,"k":13,"x":0.9686,"y":0.3182},{"p":8,"k":13,"x":1,"y":0.4},
{"p":8,"k":14,"x":0.9333,"y":0},{"p":8,"k":14,"x":0.9489,"y":0.062},{"p":8,"k":14,"x":0.9686,"y":0.1198},{"p":8,"k":14,"x":1,"y":0.2}
]
},
"vconcat":[
{"width":800,"height":404,"layer":[
{"data":{"name":"pts"},"transform":[{"filter":"datum.p==1"}],"mark":{"type":"line","strokeWidth":2,"clip":true},"encoding":{"x":{"field":"x","type":"quantitative","scale":{"domain":[0,1]},"axis":null},"y":{"field":"y","type":"quantitative","scale":{"domain":[0,1],"reverse":true},"axis":null},"color":{"field":"k","type":"nominal","scale":{"domain":[1,2,3,4,5,6,7,8,9,10,11,12,13,14],"range":["#0000ff","#ff0000","#008000","#ff00ff","#ff8c00","#8b4513","#0000ff","#ff0000","#008000","#ff00ff","#ff8c00","#8b4513","#0000ff","#ff0000"]},"legend":null},"order":{"value":null}}},
{"data":{"name":"lab"},"transform":[{"filter":"datum.p==1"}],"mark":{"type":"text","font":"Liberation Serif","fontSize":37,"align":"left","baseline":"alphabetic","color":"#000000"},"encoding":{"x":{"field":"x","type":"quantitative"},"y":{"field":"y","type":"quantitative"},"text":{"field":"t"}}}
]},
{"width":800,"height":404,"layer":[
{"data":{"name":"pts"},"transform":[{"filter":"datum.p==2"}],"mark":{"type":"line","strokeWidth":2,"clip":true},"encoding":{"x":{"field":"x","type":"quantitative","scale":{"domain":[0,1]},"axis":null},"y":{"field":"y","type":"quantitative","scale":{"domain":[0,1],"reverse":true},"axis":null},"color":{"field":"k","type":"nominal","scale":{"domain":[1,2,3,4,5,6,7,8,9,10,11,12,13,14],"range":["#0000ff","#ff0000","#008000","#ff00ff","#ff8c00","#8b4513","#0000ff","#ff0000","#008000","#ff00ff","#ff8c00","#8b4513","#0000ff","#ff0000"]},"legend":null},"order":{"value":null}}},
{"data":{"name":"lab"},"transform":[{"filter":"datum.p==2"}],"mark":{"type":"text","font":"Liberation Serif","fontSize":37,"align":"left","baseline":"alphabetic","color":"#000000"},"encoding":{"x":{"field":"x","type":"quantitative"},"y":{"field":"y","type":"quantitative"},"text":{"field":"t"}}}
]},
{"width":800,"height":404,"layer":[
{"data":{"name":"pts"},"transform":[{"filter":"datum.p==3"}],"mark":{"type":"line","strokeWidth":2,"clip":true},"encoding":{"x":{"field":"x","type":"quantitative","scale":{"domain":[0,1]},"axis":null},"y":{"field":"y","type":"quantitative","scale":{"domain":[0,1],"reverse":true},"axis":null},"color":{"field":"k","type":"nominal","scale":{"domain":[1,2,3,4,5,6,7,8,9,10,11,12,13,14],"range":["#0000ff","#ff0000","#008000","#ff00ff","#ff8c00","#8b4513","#0000ff","#ff0000","#008000","#ff00ff","#ff8c00","#8b4513","#0000ff","#ff0000"]},"legend":null},"order":{"value":null}}},
{"data":{"name":"lab"},"transform":[{"filter":"datum.p==3"}],"mark":{"type":"text","font":"Liberation Serif","fontSize":37,"align":"left","baseline":"alphabetic","color":"#000000"},"encoding":{"x":{"field":"x","type":"quantitative"},"y":{"field":"y","type":"quantitative"},"text":{"field":"t"}}}
]},
{"width":800,"height":404,"layer":[
{"data":{"name":"pts"},"transform":[{"filter":"datum.p==4"}],"mark":{"type":"line","strokeWidth":2,"clip":true},"encoding":{"x":{"field":"x","type":"quantitative","scale":{"domain":[0,1]},"axis":null},"y":{"field":"y","type":"quantitative","scale":{"domain":[0,1],"reverse":true},"axis":null},"color":{"field":"k","type":"nominal","scale":{"domain":[1,2,3,4,5,6,7,8,9,10,11,12,13,14],"range":["#0000ff","#ff0000","#008000","#ff00ff","#ff8c00","#8b4513","#0000ff","#ff0000","#008000","#ff00ff","#ff8c00","#8b4513","#0000ff","#ff0000"]},"legend":null},"order":{"value":null}}},
{"data":{"name":"lab"},"transform":[{"filter":"datum.p==4"}],"mark":{"type":"text","font":"Liberation Serif","fontSize":37,"align":"left","baseline":"alphabetic","color":"#000000"},"encoding":{"x":{"field":"x","type":"quantitative"},"y":{"field":"y","type":"quantitative"},"text":{"field":"t"}}}
]},
{"width":800,"height":404,"layer":[
{"data":{"name":"pts"},"transform":[{"filter":"datum.p==5"}],"mark":{"type":"line","strokeWidth":2,"clip":true},"encoding":{"x":{"field":"x","type":"quantitative","scale":{"domain":[0,1]},"axis":null},"y":{"field":"y","type":"quantitative","scale":{"domain":[0,1],"reverse":true},"axis":null},"color":{"field":"k","type":"nominal","scale":{"domain":[1,2,3,4,5,6,7,8,9,10,11,12,13,14],"range":["#0000ff","#ff0000","#008000","#ff00ff","#ff8c00","#8b4513","#0000ff","#ff0000","#008000","#ff00ff","#ff8c00","#8b4513","#0000ff","#ff0000"]},"legend":null},"order":{"value":null}}},
{"data":{"name":"lab"},"transform":[{"filter":"datum.p==5"}],"mark":{"type":"text","font":"Liberation Serif","fontSize":37,"align":"left","baseline":"alphabetic","color":"#000000"},"encoding":{"x":{"field":"x","type":"quantitative"},"y":{"field":"y","type":"quantitative"},"text":{"field":"t"}}}
]},
{"width":800,"height":404,"layer":[
{"data":{"name":"pts"},"transform":[{"filter":"datum.p==6"}],"mark":{"type":"line","strokeWidth":2,"clip":true},"encoding":{"x":{"field":"x","type":"quantitative","scale":{"domain":[0,1]},"axis":null},"y":{"field":"y","type":"quantitative","scale":{"domain":[0,1],"reverse":true},"axis":null},"color":{"field":"k","type":"nominal","scale":{"domain":[1,2,3,4,5,6,7,8,9,10,11,12,13,14],"range":["#0000ff","#ff0000","#008000","#ff00ff","#ff8c00","#8b4513","#0000ff","#ff0000","#008000","#ff00ff","#ff8c00","#8b4513","#0000ff","#ff0000"]},"legend":null},"order":{"value":null}}},
{"data":{"name":"lab"},"transform":[{"filter":"datum.p==6"}],"mark":{"type":"text","font":"Liberation Serif","fontSize":37,"align":"left","baseline":"alphabetic","color":"#000000"},"encoding":{"x":{"field":"x","type":"quantitative"},"y":{"field":"y","type":"quantitative"},"text":{"field":"t"}}}
]},
{"width":800,"height":404,"layer":[
{"data":{"name":"pts"},"transform":[{"filter":"datum.p==7"}],"mark":{"type":"line","strokeWidth":2,"clip":true},"encoding":{"x":{"field":"x","type":"quantitative","scale":{"domain":[0,1]},"axis":null},"y":{"field":"y","type":"quantitative","scale":{"domain":[0,1],"reverse":true},"axis":null},"color":{"field":"k","type":"nominal","scale":{"domain":[1,2,3,4,5,6,7,8,9,10,11,12,13,14],"range":["#0000ff","#ff0000","#008000","#ff00ff","#ff8c00","#8b4513","#0000ff","#ff0000","#008000","#ff00ff","#ff8c00","#8b4513","#0000ff","#ff0000"]},"legend":null},"order":{"value":null}}},
{"data":{"name":"lab"},"transform":[{"filter":"datum.p==7"}],"mark":{"type":"text","font":"Liberation Serif","fontSize":37,"align":"left","baseline":"alphabetic","color":"#000000"},"encoding":{"x":{"field":"x","type":"quantitative"},"y":{"field":"y","type":"quantitative"},"text":{"field":"t"}}}
]},
{"width":800,"height":404,"layer":[
{"data":{"name":"pts"},"transform":[{"filter":"datum.p==8"}],"mark":{"type":"line","strokeWidth":2,"clip":true},"encoding":{"x":{"field":"x","type":"quantitative","scale":{"domain":[0,1]},"axis":null},"y":{"field":"y","type":"quantitative","scale":{"domain":[0,1],"reverse":true},"axis":null},"color":{"field":"k","type":"nominal","scale":{"domain":[1,2,3,4,5,6,7,8,9,10,11,12,13,14],"range":["#0000ff","#ff0000","#008000","#ff00ff","#ff8c00","#8b4513","#0000ff","#ff0000","#008000","#ff00ff","#ff8c00","#8b4513","#0000ff","#ff0000"]},"legend":null},"order":{"value":null}}},
{"data":{"name":"lab"},"transform":[{"filter":"datum.p==8"}],"mark":{"type":"text","font":"Liberation Serif","fontSize":37,"align":"left","baseline":"alphabetic","color":"#000000"},"encoding":{"x":{"field":"x","type":"quantitative"},"y":{"field":"y","type":"quantitative"},"text":{"field":"t"}}}
]}
]
}
